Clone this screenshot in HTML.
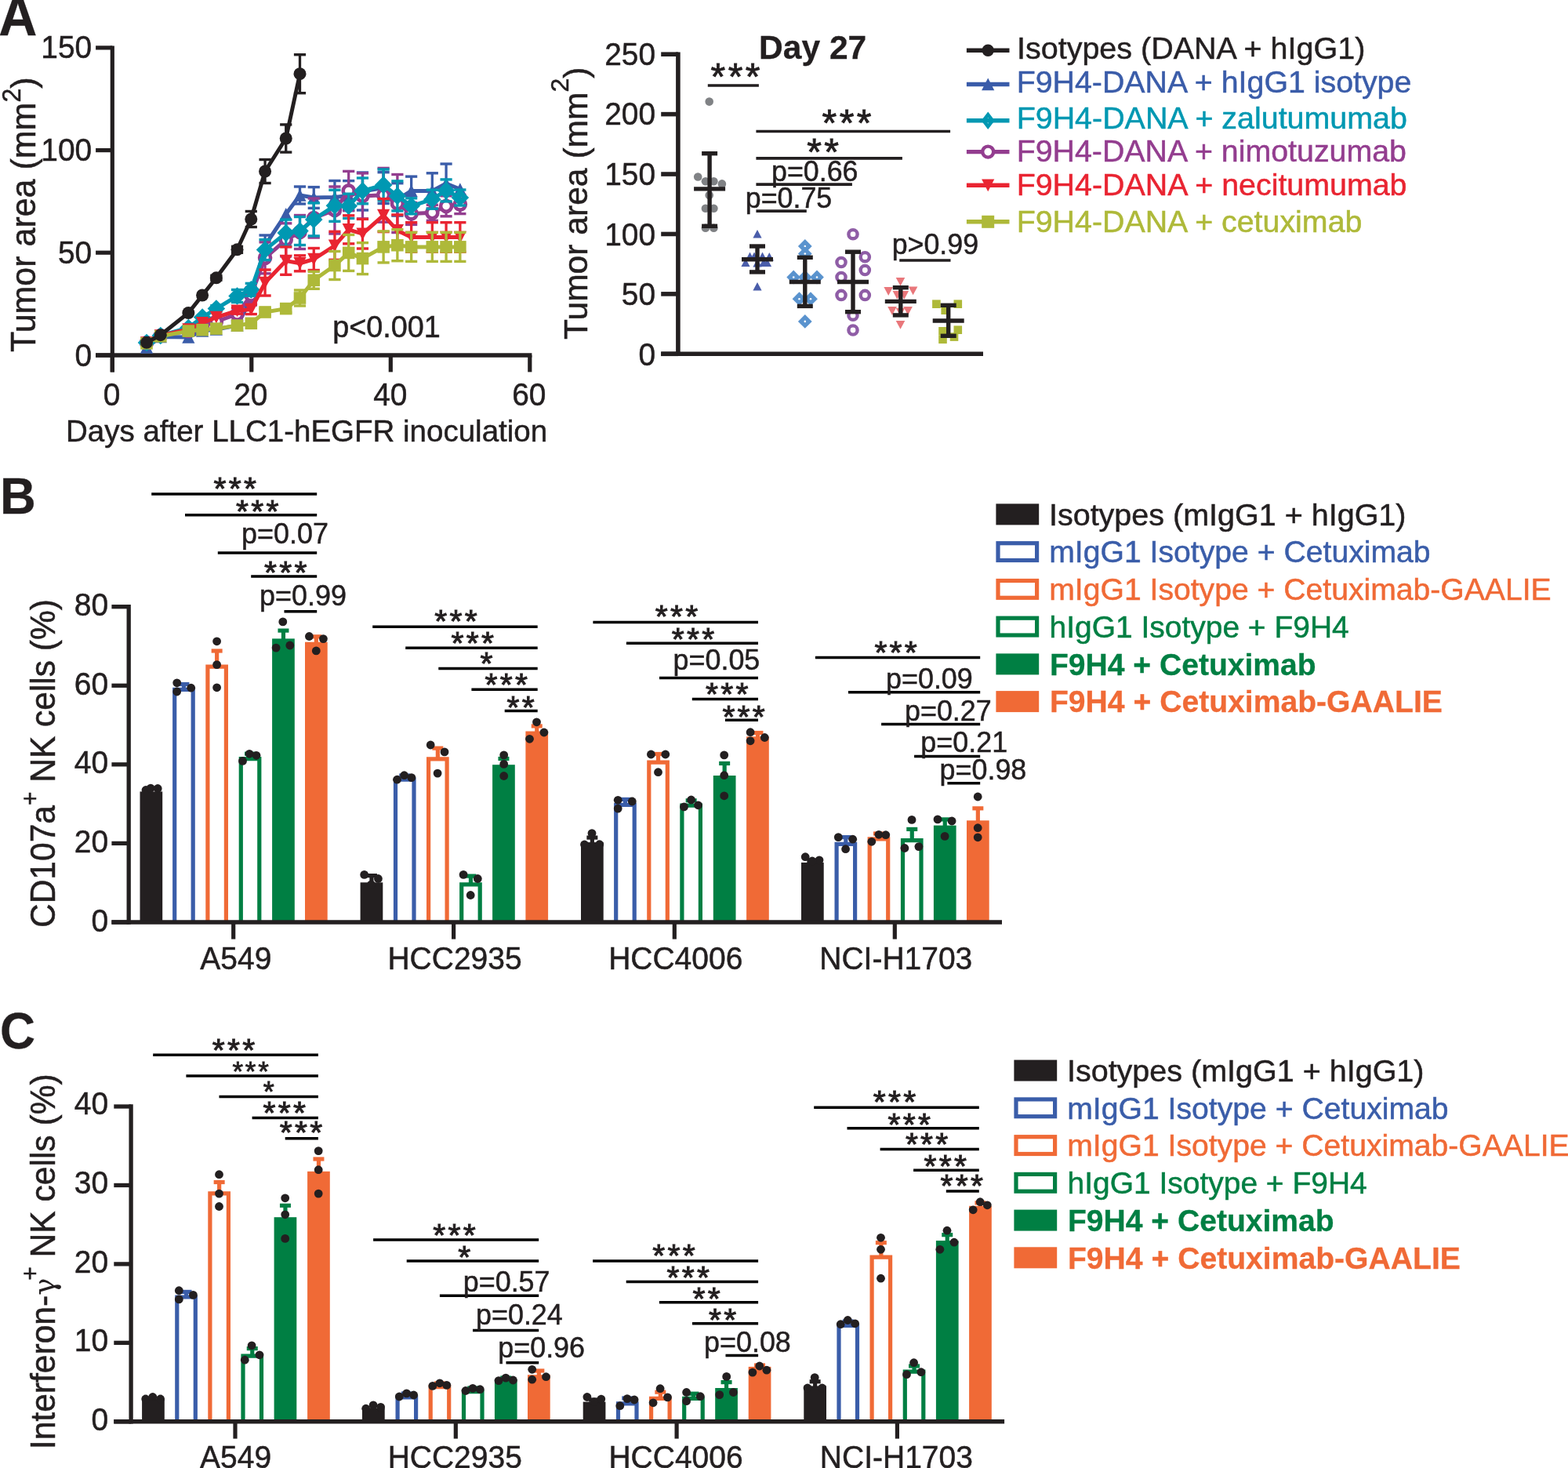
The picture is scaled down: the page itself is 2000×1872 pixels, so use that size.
<!DOCTYPE html>
<html lang="en">
<head>
<meta charset="utf-8">
<title>Figure</title>
<style>
html,body{margin:0;padding:0;background:#fff;}
body{width:2000px;height:1872px;overflow:hidden;}
svg{display:block;}
svg text{font-family:"Liberation Sans",sans-serif;}
</style>
</head>
<body>
<svg width="2000" height="1872" viewBox="0 0 2000 1872">
<rect x="0" y="0" width="2000" height="1872" fill="#ffffff"/>
<text transform="translate(-1.81 45.3) scale(1 1.03)" font-size="68" font-weight="bold" fill="#231f20" stroke="#231f20" stroke-width="0.3">A</text>
<line x1="143.3" y1="58.4" x2="143.3" y2="474.4" stroke="#231f20" stroke-width="5.2"/>
<line x1="122.1" y1="453" x2="678.4" y2="453" stroke="#231f20" stroke-width="5.6"/>
<line x1="122.1" y1="60.9" x2="143.3" y2="60.9" stroke="#231f20" stroke-width="5.2"/>
<text transform="translate(52.29 74.4) scale(1 1.03)" font-size="38.9" fill="#231f20" stroke="#231f20" stroke-width="0.5">150</text>
<line x1="122.1" y1="191.6" x2="143.3" y2="191.6" stroke="#231f20" stroke-width="5.2"/>
<text transform="translate(52.29 205.1) scale(1 1.03)" font-size="38.9" fill="#231f20" stroke="#231f20" stroke-width="0.5">100</text>
<line x1="122.1" y1="322.2" x2="143.3" y2="322.2" stroke="#231f20" stroke-width="5.2"/>
<text transform="translate(73.95 335.7) scale(1 1.03)" font-size="38.9" fill="#231f20" stroke="#231f20" stroke-width="0.5">50</text>
<line x1="122.1" y1="453" x2="143.3" y2="453" stroke="#231f20" stroke-width="5.2"/>
<text transform="translate(95.6 466.5) scale(1 1.03)" font-size="38.9" fill="#231f20" stroke="#231f20" stroke-width="0.5">0</text>
<line x1="143.3" y1="453" x2="143.3" y2="474.4" stroke="#231f20" stroke-width="5.2"/>
<text transform="translate(131.67 517) scale(1 1.03)" font-size="38.9" fill="#231f20" stroke="#231f20" stroke-width="0.5">0</text>
<line x1="320.8" y1="453" x2="320.8" y2="474.4" stroke="#231f20" stroke-width="5.2"/>
<text transform="translate(298.15 517) scale(1 1.03)" font-size="38.9" fill="#231f20" stroke="#231f20" stroke-width="0.5">20</text>
<line x1="498.3" y1="453" x2="498.3" y2="474.4" stroke="#231f20" stroke-width="5.2"/>
<text transform="translate(476.17 517) scale(1 1.03)" font-size="38.9" fill="#231f20" stroke="#231f20" stroke-width="0.5">40</text>
<line x1="675.8" y1="453" x2="675.8" y2="474.4" stroke="#231f20" stroke-width="5.2"/>
<text transform="translate(653.15 517) scale(1 1.03)" font-size="38.9" fill="#231f20" stroke="#231f20" stroke-width="0.5">60</text>
<text x="83.99" y="562.6" font-size="38.5" fill="#231f20" stroke="#231f20" stroke-width="0.5">Days after LLC1-hEGFR inoculation</text>
<text transform="translate(44.7 449) rotate(-90) scale(1 1.03)" font-size="43" fill="#231f20" stroke="#231f20" stroke-width="0.5">Tumor area (mm<tspan font-size="32" dy="-18">2</tspan><tspan dy="18">)</tspan></text>
<text transform="translate(424.21 430.4) scale(1 1.03)" font-size="37.8" fill="#231f20" stroke="#231f20" stroke-width="0.5">p&lt;0.001</text>
<line x1="302.53" y1="410" x2="302.53" y2="420" stroke="#3a5ca9" stroke-width="3.3"/>
<line x1="294.93" y1="410" x2="310.13" y2="410" stroke="#3a5ca9" stroke-width="3.4"/>
<line x1="294.93" y1="420" x2="310.13" y2="420" stroke="#3a5ca9" stroke-width="3.4"/>
<line x1="320.3" y1="373" x2="320.3" y2="389" stroke="#3a5ca9" stroke-width="3.3"/>
<line x1="312.7" y1="373" x2="327.9" y2="373" stroke="#3a5ca9" stroke-width="3.4"/>
<line x1="312.7" y1="389" x2="327.9" y2="389" stroke="#3a5ca9" stroke-width="3.4"/>
<line x1="338.07" y1="300" x2="338.07" y2="326" stroke="#3a5ca9" stroke-width="3.3"/>
<line x1="330.47" y1="300" x2="345.67" y2="300" stroke="#3a5ca9" stroke-width="3.4"/>
<line x1="330.47" y1="326" x2="345.67" y2="326" stroke="#3a5ca9" stroke-width="3.4"/>
<line x1="382.5" y1="238" x2="382.5" y2="260" stroke="#3a5ca9" stroke-width="3.3"/>
<line x1="374.89" y1="238" x2="390.1" y2="238" stroke="#3a5ca9" stroke-width="3.4"/>
<line x1="374.89" y1="260" x2="390.1" y2="260" stroke="#3a5ca9" stroke-width="3.4"/>
<line x1="400.26" y1="238.6" x2="400.26" y2="265.4" stroke="#3a5ca9" stroke-width="3.3"/>
<line x1="392.66" y1="238.6" x2="407.87" y2="238.6" stroke="#3a5ca9" stroke-width="3.4"/>
<line x1="392.66" y1="265.4" x2="407.87" y2="265.4" stroke="#3a5ca9" stroke-width="3.4"/>
<line x1="426.92" y1="230.5" x2="426.92" y2="272.5" stroke="#3a5ca9" stroke-width="3.3"/>
<line x1="419.32" y1="230.5" x2="434.52" y2="230.5" stroke="#3a5ca9" stroke-width="3.4"/>
<line x1="419.32" y1="272.5" x2="434.52" y2="272.5" stroke="#3a5ca9" stroke-width="3.4"/>
<line x1="444.69" y1="230.6" x2="444.69" y2="268.6" stroke="#3a5ca9" stroke-width="3.3"/>
<line x1="437.09" y1="230.6" x2="452.29" y2="230.6" stroke="#3a5ca9" stroke-width="3.4"/>
<line x1="437.09" y1="268.6" x2="452.29" y2="268.6" stroke="#3a5ca9" stroke-width="3.4"/>
<line x1="462.46" y1="220" x2="462.46" y2="268" stroke="#3a5ca9" stroke-width="3.3"/>
<line x1="454.86" y1="220" x2="470.06" y2="220" stroke="#3a5ca9" stroke-width="3.4"/>
<line x1="454.86" y1="268" x2="470.06" y2="268" stroke="#3a5ca9" stroke-width="3.4"/>
<line x1="489.12" y1="219.7" x2="489.12" y2="259.5" stroke="#3a5ca9" stroke-width="3.3"/>
<line x1="481.51" y1="219.7" x2="496.72" y2="219.7" stroke="#3a5ca9" stroke-width="3.4"/>
<line x1="481.51" y1="259.5" x2="496.72" y2="259.5" stroke="#3a5ca9" stroke-width="3.4"/>
<line x1="506.88" y1="233.7" x2="506.88" y2="275.1" stroke="#3a5ca9" stroke-width="3.3"/>
<line x1="499.28" y1="233.7" x2="514.49" y2="233.7" stroke="#3a5ca9" stroke-width="3.4"/>
<line x1="499.28" y1="275.1" x2="514.49" y2="275.1" stroke="#3a5ca9" stroke-width="3.4"/>
<line x1="524.65" y1="225.1" x2="524.65" y2="261.7" stroke="#3a5ca9" stroke-width="3.3"/>
<line x1="517.05" y1="225.1" x2="532.25" y2="225.1" stroke="#3a5ca9" stroke-width="3.4"/>
<line x1="517.05" y1="261.7" x2="532.25" y2="261.7" stroke="#3a5ca9" stroke-width="3.4"/>
<line x1="551.31" y1="220.8" x2="551.31" y2="266" stroke="#3a5ca9" stroke-width="3.3"/>
<line x1="543.71" y1="220.8" x2="558.91" y2="220.8" stroke="#3a5ca9" stroke-width="3.4"/>
<line x1="543.71" y1="266" x2="558.91" y2="266" stroke="#3a5ca9" stroke-width="3.4"/>
<line x1="569.08" y1="209" x2="569.08" y2="259" stroke="#3a5ca9" stroke-width="3.3"/>
<line x1="561.48" y1="209" x2="576.68" y2="209" stroke="#3a5ca9" stroke-width="3.4"/>
<line x1="561.48" y1="259" x2="576.68" y2="259" stroke="#3a5ca9" stroke-width="3.4"/>
<polyline points="187.02,443 204.79,429.5 240.33,430 258.11,422 275.88,420 302.53,415 320.3,381 338.07,313 364.73,273 382.5,249 400.26,252 426.92,251.5 444.69,249.6 462.46,244 489.12,239.6 506.88,254.4 524.65,243.4 551.31,243.4 569.08,234 586.85,241.3" fill="none" stroke="#3a5ca9" stroke-width="5" stroke-linejoin="round"/>
<polygon points="187.02,435 195.12,450.8 178.92,450.8" fill="#3a5ca9"/>
<polygon points="204.79,421.5 212.89,437.3 196.69,437.3" fill="#3a5ca9"/>
<polygon points="240.33,422 248.43,437.8 232.23,437.8" fill="#3a5ca9"/>
<polygon points="258.11,414 266.21,429.8 250.01,429.8" fill="#3a5ca9"/>
<polygon points="275.88,412 283.98,427.8 267.77,427.8" fill="#3a5ca9"/>
<polygon points="302.53,407 310.63,422.8 294.43,422.8" fill="#3a5ca9"/>
<polygon points="320.3,373 328.4,388.8 312.2,388.8" fill="#3a5ca9"/>
<polygon points="338.07,305 346.17,320.8 329.97,320.8" fill="#3a5ca9"/>
<polygon points="364.73,265 372.83,280.8 356.62,280.8" fill="#3a5ca9"/>
<polygon points="382.5,241 390.6,256.8 374.39,256.8" fill="#3a5ca9"/>
<polygon points="400.26,244 408.37,259.8 392.16,259.8" fill="#3a5ca9"/>
<polygon points="426.92,243.5 435.02,259.3 418.82,259.3" fill="#3a5ca9"/>
<polygon points="444.69,241.6 452.79,257.4 436.59,257.4" fill="#3a5ca9"/>
<polygon points="462.46,236 470.56,251.8 454.36,251.8" fill="#3a5ca9"/>
<polygon points="489.12,231.6 497.22,247.4 481.01,247.4" fill="#3a5ca9"/>
<polygon points="506.88,246.4 514.99,262.2 498.78,262.2" fill="#3a5ca9"/>
<polygon points="524.65,235.4 532.75,251.2 516.55,251.2" fill="#3a5ca9"/>
<polygon points="551.31,235.4 559.41,251.2 543.21,251.2" fill="#3a5ca9"/>
<polygon points="569.08,226 577.18,241.8 560.98,241.8" fill="#3a5ca9"/>
<polygon points="586.85,233.3 594.95,249.1 578.75,249.1" fill="#3a5ca9"/>
<line x1="275.88" y1="406" x2="275.88" y2="414" stroke="#933d8f" stroke-width="3.3"/>
<line x1="268.27" y1="406" x2="283.48" y2="406" stroke="#933d8f" stroke-width="3.4"/>
<line x1="268.27" y1="414" x2="283.48" y2="414" stroke="#933d8f" stroke-width="3.4"/>
<line x1="302.53" y1="392.6" x2="302.53" y2="408.6" stroke="#933d8f" stroke-width="3.3"/>
<line x1="294.93" y1="392.6" x2="310.13" y2="392.6" stroke="#933d8f" stroke-width="3.4"/>
<line x1="294.93" y1="408.6" x2="310.13" y2="408.6" stroke="#933d8f" stroke-width="3.4"/>
<line x1="320.3" y1="366.5" x2="320.3" y2="386.5" stroke="#933d8f" stroke-width="3.3"/>
<line x1="312.7" y1="366.5" x2="327.9" y2="366.5" stroke="#933d8f" stroke-width="3.4"/>
<line x1="312.7" y1="386.5" x2="327.9" y2="386.5" stroke="#933d8f" stroke-width="3.4"/>
<line x1="338.07" y1="308.8" x2="338.07" y2="348.8" stroke="#933d8f" stroke-width="3.3"/>
<line x1="330.47" y1="308.8" x2="345.67" y2="308.8" stroke="#933d8f" stroke-width="3.4"/>
<line x1="330.47" y1="348.8" x2="345.67" y2="348.8" stroke="#933d8f" stroke-width="3.4"/>
<line x1="364.73" y1="284.8" x2="364.73" y2="326.8" stroke="#933d8f" stroke-width="3.3"/>
<line x1="357.12" y1="284.8" x2="372.33" y2="284.8" stroke="#933d8f" stroke-width="3.4"/>
<line x1="357.12" y1="326.8" x2="372.33" y2="326.8" stroke="#933d8f" stroke-width="3.4"/>
<line x1="382.5" y1="274.5" x2="382.5" y2="317.5" stroke="#933d8f" stroke-width="3.3"/>
<line x1="374.89" y1="274.5" x2="390.1" y2="274.5" stroke="#933d8f" stroke-width="3.4"/>
<line x1="374.89" y1="317.5" x2="390.1" y2="317.5" stroke="#933d8f" stroke-width="3.4"/>
<line x1="400.26" y1="253" x2="400.26" y2="303" stroke="#933d8f" stroke-width="3.3"/>
<line x1="392.66" y1="253" x2="407.87" y2="253" stroke="#933d8f" stroke-width="3.4"/>
<line x1="392.66" y1="303" x2="407.87" y2="303" stroke="#933d8f" stroke-width="3.4"/>
<line x1="426.92" y1="238" x2="426.92" y2="298" stroke="#933d8f" stroke-width="3.3"/>
<line x1="419.32" y1="238" x2="434.52" y2="238" stroke="#933d8f" stroke-width="3.4"/>
<line x1="419.32" y1="298" x2="434.52" y2="298" stroke="#933d8f" stroke-width="3.4"/>
<line x1="444.69" y1="218.4" x2="444.69" y2="268.4" stroke="#933d8f" stroke-width="3.3"/>
<line x1="437.09" y1="218.4" x2="452.29" y2="218.4" stroke="#933d8f" stroke-width="3.4"/>
<line x1="437.09" y1="268.4" x2="452.29" y2="268.4" stroke="#933d8f" stroke-width="3.4"/>
<line x1="462.46" y1="220.9" x2="462.46" y2="278.9" stroke="#933d8f" stroke-width="3.3"/>
<line x1="454.86" y1="220.9" x2="470.06" y2="220.9" stroke="#933d8f" stroke-width="3.4"/>
<line x1="454.86" y1="278.9" x2="470.06" y2="278.9" stroke="#933d8f" stroke-width="3.4"/>
<line x1="489.12" y1="214.4" x2="489.12" y2="283.2" stroke="#933d8f" stroke-width="3.3"/>
<line x1="481.51" y1="214.4" x2="496.72" y2="214.4" stroke="#933d8f" stroke-width="3.4"/>
<line x1="481.51" y1="283.2" x2="496.72" y2="283.2" stroke="#933d8f" stroke-width="3.4"/>
<line x1="506.88" y1="222.5" x2="506.88" y2="296.5" stroke="#933d8f" stroke-width="3.3"/>
<line x1="499.28" y1="222.5" x2="514.49" y2="222.5" stroke="#933d8f" stroke-width="3.4"/>
<line x1="499.28" y1="296.5" x2="514.49" y2="296.5" stroke="#933d8f" stroke-width="3.4"/>
<line x1="524.65" y1="258.4" x2="524.65" y2="286.4" stroke="#933d8f" stroke-width="3.3"/>
<line x1="517.05" y1="258.4" x2="532.25" y2="258.4" stroke="#933d8f" stroke-width="3.4"/>
<line x1="517.05" y1="286.4" x2="532.25" y2="286.4" stroke="#933d8f" stroke-width="3.4"/>
<line x1="551.31" y1="261.3" x2="551.31" y2="281.3" stroke="#933d8f" stroke-width="3.3"/>
<line x1="543.71" y1="261.3" x2="558.91" y2="261.3" stroke="#933d8f" stroke-width="3.4"/>
<line x1="543.71" y1="281.3" x2="558.91" y2="281.3" stroke="#933d8f" stroke-width="3.4"/>
<line x1="569.08" y1="249.8" x2="569.08" y2="275.8" stroke="#933d8f" stroke-width="3.3"/>
<line x1="561.48" y1="249.8" x2="576.68" y2="249.8" stroke="#933d8f" stroke-width="3.4"/>
<line x1="561.48" y1="275.8" x2="576.68" y2="275.8" stroke="#933d8f" stroke-width="3.4"/>
<line x1="586.85" y1="248.6" x2="586.85" y2="272.6" stroke="#933d8f" stroke-width="3.3"/>
<line x1="579.25" y1="248.6" x2="594.45" y2="248.6" stroke="#933d8f" stroke-width="3.4"/>
<line x1="579.25" y1="272.6" x2="594.45" y2="272.6" stroke="#933d8f" stroke-width="3.4"/>
<polyline points="187.02,437 204.79,428 240.33,422 258.11,416 275.88,410 302.53,400.6 320.3,376.5 338.07,328.8 364.73,305.8 382.5,296 400.26,278 426.92,268 444.69,243.4 462.46,249.9 489.12,248.8 506.88,259.5 524.65,272.4 551.31,271.3 569.08,262.8 586.85,260.6" fill="none" stroke="#933d8f" stroke-width="5" stroke-linejoin="round"/>
<circle cx="187.02" cy="437" r="7" fill="#fff" stroke="#933d8f" stroke-width="4.6"/>
<circle cx="204.79" cy="428" r="7" fill="#fff" stroke="#933d8f" stroke-width="4.6"/>
<circle cx="240.33" cy="422" r="7" fill="#fff" stroke="#933d8f" stroke-width="4.6"/>
<circle cx="258.11" cy="416" r="7" fill="#fff" stroke="#933d8f" stroke-width="4.6"/>
<circle cx="275.88" cy="410" r="7" fill="#fff" stroke="#933d8f" stroke-width="4.6"/>
<circle cx="302.53" cy="400.6" r="7" fill="#fff" stroke="#933d8f" stroke-width="4.6"/>
<circle cx="320.3" cy="376.5" r="7" fill="#fff" stroke="#933d8f" stroke-width="4.6"/>
<circle cx="338.07" cy="328.8" r="7" fill="#fff" stroke="#933d8f" stroke-width="4.6"/>
<circle cx="364.73" cy="305.8" r="7" fill="#fff" stroke="#933d8f" stroke-width="4.6"/>
<circle cx="382.5" cy="296" r="7" fill="#fff" stroke="#933d8f" stroke-width="4.6"/>
<circle cx="400.26" cy="278" r="7" fill="#fff" stroke="#933d8f" stroke-width="4.6"/>
<circle cx="426.92" cy="268" r="7" fill="#fff" stroke="#933d8f" stroke-width="4.6"/>
<circle cx="444.69" cy="243.4" r="7" fill="#fff" stroke="#933d8f" stroke-width="4.6"/>
<circle cx="462.46" cy="249.9" r="7" fill="#fff" stroke="#933d8f" stroke-width="4.6"/>
<circle cx="489.12" cy="248.8" r="7" fill="#fff" stroke="#933d8f" stroke-width="4.6"/>
<circle cx="506.88" cy="259.5" r="7" fill="#fff" stroke="#933d8f" stroke-width="4.6"/>
<circle cx="524.65" cy="272.4" r="7" fill="#fff" stroke="#933d8f" stroke-width="4.6"/>
<circle cx="551.31" cy="271.3" r="7" fill="#fff" stroke="#933d8f" stroke-width="4.6"/>
<circle cx="569.08" cy="262.8" r="7" fill="#fff" stroke="#933d8f" stroke-width="4.6"/>
<circle cx="586.85" cy="260.6" r="7" fill="#fff" stroke="#933d8f" stroke-width="4.6"/>
<line x1="275.88" y1="389.6" x2="275.88" y2="397.6" stroke="#0098b2" stroke-width="3.3"/>
<line x1="268.27" y1="389.6" x2="283.48" y2="389.6" stroke="#0098b2" stroke-width="3.4"/>
<line x1="268.27" y1="397.6" x2="283.48" y2="397.6" stroke="#0098b2" stroke-width="3.4"/>
<line x1="302.53" y1="369.5" x2="302.53" y2="385.5" stroke="#0098b2" stroke-width="3.3"/>
<line x1="294.93" y1="369.5" x2="310.13" y2="369.5" stroke="#0098b2" stroke-width="3.4"/>
<line x1="294.93" y1="385.5" x2="310.13" y2="385.5" stroke="#0098b2" stroke-width="3.4"/>
<line x1="320.3" y1="361.4" x2="320.3" y2="377.4" stroke="#0098b2" stroke-width="3.3"/>
<line x1="312.7" y1="361.4" x2="327.9" y2="361.4" stroke="#0098b2" stroke-width="3.4"/>
<line x1="312.7" y1="377.4" x2="327.9" y2="377.4" stroke="#0098b2" stroke-width="3.4"/>
<line x1="338.07" y1="305.6" x2="338.07" y2="331.6" stroke="#0098b2" stroke-width="3.3"/>
<line x1="330.47" y1="305.6" x2="345.67" y2="305.6" stroke="#0098b2" stroke-width="3.4"/>
<line x1="330.47" y1="331.6" x2="345.67" y2="331.6" stroke="#0098b2" stroke-width="3.4"/>
<line x1="364.73" y1="280.1" x2="364.73" y2="314.1" stroke="#0098b2" stroke-width="3.3"/>
<line x1="357.12" y1="280.1" x2="372.33" y2="280.1" stroke="#0098b2" stroke-width="3.4"/>
<line x1="357.12" y1="314.1" x2="372.33" y2="314.1" stroke="#0098b2" stroke-width="3.4"/>
<line x1="382.5" y1="276.5" x2="382.5" y2="312.5" stroke="#0098b2" stroke-width="3.3"/>
<line x1="374.89" y1="276.5" x2="390.1" y2="276.5" stroke="#0098b2" stroke-width="3.4"/>
<line x1="374.89" y1="312.5" x2="390.1" y2="312.5" stroke="#0098b2" stroke-width="3.4"/>
<line x1="400.26" y1="258.9" x2="400.26" y2="300.9" stroke="#0098b2" stroke-width="3.3"/>
<line x1="392.66" y1="258.9" x2="407.87" y2="258.9" stroke="#0098b2" stroke-width="3.4"/>
<line x1="392.66" y1="300.9" x2="407.87" y2="300.9" stroke="#0098b2" stroke-width="3.4"/>
<line x1="426.92" y1="242.3" x2="426.92" y2="282.3" stroke="#0098b2" stroke-width="3.3"/>
<line x1="419.32" y1="242.3" x2="434.52" y2="242.3" stroke="#0098b2" stroke-width="3.4"/>
<line x1="419.32" y1="282.3" x2="434.52" y2="282.3" stroke="#0098b2" stroke-width="3.4"/>
<line x1="444.69" y1="247.2" x2="444.69" y2="278.4" stroke="#0098b2" stroke-width="3.3"/>
<line x1="437.09" y1="247.2" x2="452.29" y2="247.2" stroke="#0098b2" stroke-width="3.4"/>
<line x1="437.09" y1="278.4" x2="452.29" y2="278.4" stroke="#0098b2" stroke-width="3.4"/>
<line x1="462.46" y1="227" x2="462.46" y2="259.8" stroke="#0098b2" stroke-width="3.3"/>
<line x1="454.86" y1="227" x2="470.06" y2="227" stroke="#0098b2" stroke-width="3.4"/>
<line x1="454.86" y1="259.8" x2="470.06" y2="259.8" stroke="#0098b2" stroke-width="3.4"/>
<line x1="489.12" y1="216" x2="489.12" y2="255.8" stroke="#0098b2" stroke-width="3.3"/>
<line x1="481.51" y1="216" x2="496.72" y2="216" stroke="#0098b2" stroke-width="3.4"/>
<line x1="481.51" y1="255.8" x2="496.72" y2="255.8" stroke="#0098b2" stroke-width="3.4"/>
<line x1="506.88" y1="230.9" x2="506.88" y2="268.9" stroke="#0098b2" stroke-width="3.3"/>
<line x1="499.28" y1="230.9" x2="514.49" y2="230.9" stroke="#0098b2" stroke-width="3.4"/>
<line x1="499.28" y1="268.9" x2="514.49" y2="268.9" stroke="#0098b2" stroke-width="3.4"/>
<line x1="524.65" y1="252.8" x2="524.65" y2="272.8" stroke="#0098b2" stroke-width="3.3"/>
<line x1="517.05" y1="252.8" x2="532.25" y2="252.8" stroke="#0098b2" stroke-width="3.4"/>
<line x1="517.05" y1="272.8" x2="532.25" y2="272.8" stroke="#0098b2" stroke-width="3.4"/>
<line x1="551.31" y1="242.2" x2="551.31" y2="266.2" stroke="#0098b2" stroke-width="3.3"/>
<line x1="543.71" y1="242.2" x2="558.91" y2="242.2" stroke="#0098b2" stroke-width="3.4"/>
<line x1="543.71" y1="266.2" x2="558.91" y2="266.2" stroke="#0098b2" stroke-width="3.4"/>
<line x1="569.08" y1="228.9" x2="569.08" y2="256.9" stroke="#0098b2" stroke-width="3.3"/>
<line x1="561.48" y1="228.9" x2="576.68" y2="228.9" stroke="#0098b2" stroke-width="3.4"/>
<line x1="561.48" y1="256.9" x2="576.68" y2="256.9" stroke="#0098b2" stroke-width="3.4"/>
<line x1="586.85" y1="242" x2="586.85" y2="262" stroke="#0098b2" stroke-width="3.3"/>
<line x1="579.25" y1="242" x2="594.45" y2="242" stroke="#0098b2" stroke-width="3.4"/>
<line x1="579.25" y1="262" x2="594.45" y2="262" stroke="#0098b2" stroke-width="3.4"/>
<polyline points="187.02,437 204.79,428 240.33,418 258.11,404.6 275.88,393.6 302.53,377.5 320.3,369.4 338.07,318.6 364.73,297.1 382.5,294.5 400.26,279.9 426.92,262.3 444.69,262.8 462.46,243.4 489.12,235.9 506.88,249.9 524.65,262.8 551.31,254.2 569.08,242.9 586.85,252" fill="none" stroke="#0098b2" stroke-width="5" stroke-linejoin="round"/>
<path fill-rule="evenodd" fill="#0098b2" d="M187.02 425.7L198.32 437L187.02 448.3L175.72 437ZM187.02 434.6L189.42 437L187.02 439.4L184.62 437Z"/>
<path fill-rule="evenodd" fill="#0098b2" d="M204.79 416.7L216.09 428L204.79 439.3L193.49 428ZM204.79 425.6L207.19 428L204.79 430.4L202.39 428Z"/>
<path fill-rule="evenodd" fill="#0098b2" d="M240.33 406.7L251.63 418L240.33 429.3L229.03 418ZM240.33 415.6L242.73 418L240.33 420.4L237.93 418Z"/>
<path fill-rule="evenodd" fill="#0098b2" d="M258.11 393.3L269.41 404.6L258.11 415.9L246.81 404.6ZM258.11 402.2L260.5 404.6L258.11 407L255.71 404.6Z"/>
<path fill-rule="evenodd" fill="#0098b2" d="M275.88 382.3L287.18 393.6L275.88 404.9L264.57 393.6ZM275.88 391.2L278.27 393.6L275.88 396L273.48 393.6Z"/>
<path fill-rule="evenodd" fill="#0098b2" d="M302.53 366.2L313.83 377.5L302.53 388.8L291.23 377.5ZM302.53 375.1L304.93 377.5L302.53 379.9L300.13 377.5Z"/>
<path fill-rule="evenodd" fill="#0098b2" d="M320.3 358.1L331.6 369.4L320.3 380.7L309 369.4ZM320.3 367L322.7 369.4L320.3 371.8L317.9 369.4Z"/>
<path fill-rule="evenodd" fill="#0098b2" d="M338.07 307.3L349.37 318.6L338.07 329.9L326.77 318.6ZM338.07 316.2L340.47 318.6L338.07 321L335.67 318.6Z"/>
<path fill-rule="evenodd" fill="#0098b2" d="M364.73 285.8L376.03 297.1L364.73 308.4L353.43 297.1ZM364.73 294.7L367.12 297.1L364.73 299.5L362.33 297.1Z"/>
<path fill-rule="evenodd" fill="#0098b2" d="M382.5 283.2L393.8 294.5L382.5 305.8L371.19 294.5ZM382.5 292.1L384.89 294.5L382.5 296.9L380.1 294.5Z"/>
<path fill-rule="evenodd" fill="#0098b2" d="M400.26 268.6L411.56 279.9L400.26 291.2L388.96 279.9ZM400.26 277.5L402.66 279.9L400.26 282.3L397.87 279.9Z"/>
<path fill-rule="evenodd" fill="#0098b2" d="M426.92 251L438.22 262.3L426.92 273.6L415.62 262.3ZM426.92 259.9L429.32 262.3L426.92 264.7L424.52 262.3Z"/>
<path fill-rule="evenodd" fill="#0098b2" d="M444.69 251.5L455.99 262.8L444.69 274.1L433.39 262.8ZM444.69 260.4L447.09 262.8L444.69 265.2L442.29 262.8Z"/>
<path fill-rule="evenodd" fill="#0098b2" d="M462.46 232.1L473.76 243.4L462.46 254.7L451.16 243.4ZM462.46 241L464.86 243.4L462.46 245.8L460.06 243.4Z"/>
<path fill-rule="evenodd" fill="#0098b2" d="M489.12 224.6L500.42 235.9L489.12 247.2L477.81 235.9ZM489.12 233.5L491.51 235.9L489.12 238.3L486.72 235.9Z"/>
<path fill-rule="evenodd" fill="#0098b2" d="M506.88 238.6L518.18 249.9L506.88 261.2L495.58 249.9ZM506.88 247.5L509.28 249.9L506.88 252.3L504.49 249.9Z"/>
<path fill-rule="evenodd" fill="#0098b2" d="M524.65 251.5L535.95 262.8L524.65 274.1L513.36 262.8ZM524.65 260.4L527.05 262.8L524.65 265.2L522.25 262.8Z"/>
<path fill-rule="evenodd" fill="#0098b2" d="M551.31 242.9L562.61 254.2L551.31 265.5L540.01 254.2ZM551.31 251.8L553.71 254.2L551.31 256.6L548.91 254.2Z"/>
<path fill-rule="evenodd" fill="#0098b2" d="M569.08 231.6L580.38 242.9L569.08 254.2L557.78 242.9ZM569.08 240.5L571.48 242.9L569.08 245.3L566.68 242.9Z"/>
<path fill-rule="evenodd" fill="#0098b2" d="M586.85 240.7L598.15 252L586.85 263.3L575.55 252ZM586.85 249.6L589.25 252L586.85 254.4L584.45 252Z"/>
<line x1="302.53" y1="392.2" x2="302.53" y2="400.2" stroke="#e92431" stroke-width="3.3"/>
<line x1="294.93" y1="392.2" x2="310.13" y2="392.2" stroke="#e92431" stroke-width="3.4"/>
<line x1="294.93" y1="400.2" x2="310.13" y2="400.2" stroke="#e92431" stroke-width="3.4"/>
<line x1="320.3" y1="388.6" x2="320.3" y2="400.6" stroke="#e92431" stroke-width="3.3"/>
<line x1="312.7" y1="388.6" x2="327.9" y2="388.6" stroke="#e92431" stroke-width="3.4"/>
<line x1="312.7" y1="400.6" x2="327.9" y2="400.6" stroke="#e92431" stroke-width="3.4"/>
<line x1="338.07" y1="344" x2="338.07" y2="377" stroke="#e92431" stroke-width="3.3"/>
<line x1="330.47" y1="344" x2="345.67" y2="344" stroke="#e92431" stroke-width="3.4"/>
<line x1="330.47" y1="377" x2="345.67" y2="377" stroke="#e92431" stroke-width="3.4"/>
<line x1="364.73" y1="314.9" x2="364.73" y2="350.3" stroke="#e92431" stroke-width="3.3"/>
<line x1="357.12" y1="314.9" x2="372.33" y2="314.9" stroke="#e92431" stroke-width="3.4"/>
<line x1="357.12" y1="350.3" x2="372.33" y2="350.3" stroke="#e92431" stroke-width="3.4"/>
<line x1="382.5" y1="325.8" x2="382.5" y2="345.8" stroke="#e92431" stroke-width="3.3"/>
<line x1="374.89" y1="325.8" x2="390.1" y2="325.8" stroke="#e92431" stroke-width="3.4"/>
<line x1="374.89" y1="345.8" x2="390.1" y2="345.8" stroke="#e92431" stroke-width="3.4"/>
<line x1="400.26" y1="316.5" x2="400.26" y2="344.5" stroke="#e92431" stroke-width="3.3"/>
<line x1="392.66" y1="316.5" x2="407.87" y2="316.5" stroke="#e92431" stroke-width="3.4"/>
<line x1="392.66" y1="344.5" x2="407.87" y2="344.5" stroke="#e92431" stroke-width="3.4"/>
<line x1="426.92" y1="295.3" x2="426.92" y2="331.3" stroke="#e92431" stroke-width="3.3"/>
<line x1="419.32" y1="295.3" x2="434.52" y2="295.3" stroke="#e92431" stroke-width="3.4"/>
<line x1="419.32" y1="331.3" x2="434.52" y2="331.3" stroke="#e92431" stroke-width="3.4"/>
<line x1="444.69" y1="274.8" x2="444.69" y2="310.8" stroke="#e92431" stroke-width="3.3"/>
<line x1="437.09" y1="274.8" x2="452.29" y2="274.8" stroke="#e92431" stroke-width="3.4"/>
<line x1="437.09" y1="310.8" x2="452.29" y2="310.8" stroke="#e92431" stroke-width="3.4"/>
<line x1="462.46" y1="279.4" x2="462.46" y2="317" stroke="#e92431" stroke-width="3.3"/>
<line x1="454.86" y1="279.4" x2="470.06" y2="279.4" stroke="#e92431" stroke-width="3.4"/>
<line x1="454.86" y1="317" x2="470.06" y2="317" stroke="#e92431" stroke-width="3.4"/>
<line x1="489.12" y1="253.6" x2="489.12" y2="295.6" stroke="#e92431" stroke-width="3.3"/>
<line x1="481.51" y1="253.6" x2="496.72" y2="253.6" stroke="#e92431" stroke-width="3.4"/>
<line x1="481.51" y1="295.6" x2="496.72" y2="295.6" stroke="#e92431" stroke-width="3.4"/>
<line x1="506.88" y1="273.9" x2="506.88" y2="313.9" stroke="#e92431" stroke-width="3.3"/>
<line x1="499.28" y1="273.9" x2="514.49" y2="273.9" stroke="#e92431" stroke-width="3.4"/>
<line x1="499.28" y1="313.9" x2="514.49" y2="313.9" stroke="#e92431" stroke-width="3.4"/>
<line x1="524.65" y1="283.7" x2="524.65" y2="321.3" stroke="#e92431" stroke-width="3.3"/>
<line x1="517.05" y1="283.7" x2="532.25" y2="283.7" stroke="#e92431" stroke-width="3.4"/>
<line x1="517.05" y1="321.3" x2="532.25" y2="321.3" stroke="#e92431" stroke-width="3.4"/>
<line x1="551.31" y1="283.7" x2="551.31" y2="321.3" stroke="#e92431" stroke-width="3.3"/>
<line x1="543.71" y1="283.7" x2="558.91" y2="283.7" stroke="#e92431" stroke-width="3.4"/>
<line x1="543.71" y1="321.3" x2="558.91" y2="321.3" stroke="#e92431" stroke-width="3.4"/>
<line x1="569.08" y1="283.7" x2="569.08" y2="321.3" stroke="#e92431" stroke-width="3.3"/>
<line x1="561.48" y1="283.7" x2="576.68" y2="283.7" stroke="#e92431" stroke-width="3.4"/>
<line x1="561.48" y1="321.3" x2="576.68" y2="321.3" stroke="#e92431" stroke-width="3.4"/>
<line x1="586.85" y1="283.7" x2="586.85" y2="321.3" stroke="#e92431" stroke-width="3.3"/>
<line x1="579.25" y1="283.7" x2="594.45" y2="283.7" stroke="#e92431" stroke-width="3.4"/>
<line x1="579.25" y1="321.3" x2="594.45" y2="321.3" stroke="#e92431" stroke-width="3.4"/>
<polyline points="187.02,437 204.79,428 240.33,420 258.11,411.7 275.88,404.6 302.53,396.2 320.3,394.6 338.07,360.5 364.73,332.6 382.5,335.8 400.26,330.5 426.92,313.3 444.69,292.8 462.46,298.2 489.12,274.6 506.88,293.9 524.65,302.5 551.31,302.5 569.08,302.5 586.85,302.5" fill="none" stroke="#e92431" stroke-width="5" stroke-linejoin="round"/>
<polygon points="178.92,429.2 195.12,429.2 187.02,445" fill="#e92431"/>
<polygon points="196.69,420.2 212.89,420.2 204.79,436" fill="#e92431"/>
<polygon points="232.23,412.2 248.43,412.2 240.33,428" fill="#e92431"/>
<polygon points="250.01,403.9 266.21,403.9 258.11,419.7" fill="#e92431"/>
<polygon points="267.77,396.8 283.98,396.8 275.88,412.6" fill="#e92431"/>
<polygon points="294.43,388.4 310.63,388.4 302.53,404.2" fill="#e92431"/>
<polygon points="312.2,386.8 328.4,386.8 320.3,402.6" fill="#e92431"/>
<polygon points="329.97,352.7 346.17,352.7 338.07,368.5" fill="#e92431"/>
<polygon points="356.62,324.8 372.83,324.8 364.73,340.6" fill="#e92431"/>
<polygon points="374.39,328 390.6,328 382.5,343.8" fill="#e92431"/>
<polygon points="392.16,322.7 408.37,322.7 400.26,338.5" fill="#e92431"/>
<polygon points="418.82,305.5 435.02,305.5 426.92,321.3" fill="#e92431"/>
<polygon points="436.59,285 452.79,285 444.69,300.8" fill="#e92431"/>
<polygon points="454.36,290.4 470.56,290.4 462.46,306.2" fill="#e92431"/>
<polygon points="481.01,266.8 497.22,266.8 489.12,282.6" fill="#e92431"/>
<polygon points="498.78,286.1 514.99,286.1 506.88,301.9" fill="#e92431"/>
<polygon points="516.55,294.7 532.75,294.7 524.65,310.5" fill="#e92431"/>
<polygon points="543.21,294.7 559.41,294.7 551.31,310.5" fill="#e92431"/>
<polygon points="560.98,294.7 577.18,294.7 569.08,310.5" fill="#e92431"/>
<polygon points="578.75,294.7 594.95,294.7 586.85,310.5" fill="#e92431"/>
<line x1="338.07" y1="394" x2="338.07" y2="402" stroke="#aeb939" stroke-width="3.3"/>
<line x1="330.47" y1="394" x2="345.67" y2="394" stroke="#aeb939" stroke-width="3.4"/>
<line x1="330.47" y1="402" x2="345.67" y2="402" stroke="#aeb939" stroke-width="3.4"/>
<line x1="364.73" y1="388.6" x2="364.73" y2="398.6" stroke="#aeb939" stroke-width="3.3"/>
<line x1="357.12" y1="388.6" x2="372.33" y2="388.6" stroke="#aeb939" stroke-width="3.4"/>
<line x1="357.12" y1="398.6" x2="372.33" y2="398.6" stroke="#aeb939" stroke-width="3.4"/>
<line x1="382.5" y1="370" x2="382.5" y2="390" stroke="#aeb939" stroke-width="3.3"/>
<line x1="374.89" y1="370" x2="390.1" y2="370" stroke="#aeb939" stroke-width="3.4"/>
<line x1="374.89" y1="390" x2="390.1" y2="390" stroke="#aeb939" stroke-width="3.4"/>
<line x1="400.26" y1="346.3" x2="400.26" y2="368.3" stroke="#aeb939" stroke-width="3.3"/>
<line x1="392.66" y1="346.3" x2="407.87" y2="346.3" stroke="#aeb939" stroke-width="3.4"/>
<line x1="392.66" y1="368.3" x2="407.87" y2="368.3" stroke="#aeb939" stroke-width="3.4"/>
<line x1="426.92" y1="320.5" x2="426.92" y2="356.5" stroke="#aeb939" stroke-width="3.3"/>
<line x1="419.32" y1="320.5" x2="434.52" y2="320.5" stroke="#aeb939" stroke-width="3.4"/>
<line x1="419.32" y1="356.5" x2="434.52" y2="356.5" stroke="#aeb939" stroke-width="3.4"/>
<line x1="444.69" y1="299.4" x2="444.69" y2="345.4" stroke="#aeb939" stroke-width="3.3"/>
<line x1="437.09" y1="299.4" x2="452.29" y2="299.4" stroke="#aeb939" stroke-width="3.4"/>
<line x1="437.09" y1="345.4" x2="452.29" y2="345.4" stroke="#aeb939" stroke-width="3.4"/>
<line x1="462.46" y1="309.6" x2="462.46" y2="349.6" stroke="#aeb939" stroke-width="3.3"/>
<line x1="454.86" y1="309.6" x2="470.06" y2="309.6" stroke="#aeb939" stroke-width="3.4"/>
<line x1="454.86" y1="349.6" x2="470.06" y2="349.6" stroke="#aeb939" stroke-width="3.4"/>
<line x1="489.12" y1="294.9" x2="489.12" y2="334.9" stroke="#aeb939" stroke-width="3.3"/>
<line x1="481.51" y1="294.9" x2="496.72" y2="294.9" stroke="#aeb939" stroke-width="3.4"/>
<line x1="481.51" y1="334.9" x2="496.72" y2="334.9" stroke="#aeb939" stroke-width="3.4"/>
<line x1="506.88" y1="292.7" x2="506.88" y2="332.7" stroke="#aeb939" stroke-width="3.3"/>
<line x1="499.28" y1="292.7" x2="514.49" y2="292.7" stroke="#aeb939" stroke-width="3.4"/>
<line x1="499.28" y1="332.7" x2="514.49" y2="332.7" stroke="#aeb939" stroke-width="3.4"/>
<line x1="524.65" y1="296.4" x2="524.65" y2="333.4" stroke="#aeb939" stroke-width="3.3"/>
<line x1="517.05" y1="296.4" x2="532.25" y2="296.4" stroke="#aeb939" stroke-width="3.4"/>
<line x1="517.05" y1="333.4" x2="532.25" y2="333.4" stroke="#aeb939" stroke-width="3.4"/>
<line x1="551.31" y1="296.4" x2="551.31" y2="333.4" stroke="#aeb939" stroke-width="3.3"/>
<line x1="543.71" y1="296.4" x2="558.91" y2="296.4" stroke="#aeb939" stroke-width="3.4"/>
<line x1="543.71" y1="333.4" x2="558.91" y2="333.4" stroke="#aeb939" stroke-width="3.4"/>
<line x1="569.08" y1="296.4" x2="569.08" y2="333.4" stroke="#aeb939" stroke-width="3.3"/>
<line x1="561.48" y1="296.4" x2="576.68" y2="296.4" stroke="#aeb939" stroke-width="3.4"/>
<line x1="561.48" y1="333.4" x2="576.68" y2="333.4" stroke="#aeb939" stroke-width="3.4"/>
<line x1="586.85" y1="296.4" x2="586.85" y2="333.4" stroke="#aeb939" stroke-width="3.3"/>
<line x1="579.25" y1="296.4" x2="594.45" y2="296.4" stroke="#aeb939" stroke-width="3.4"/>
<line x1="579.25" y1="333.4" x2="594.45" y2="333.4" stroke="#aeb939" stroke-width="3.4"/>
<polyline points="187.02,437.8 204.79,428.8 240.33,422.1 258.11,420.7 275.88,419.1 302.53,415.1 320.3,412.3 338.07,398 364.73,393.6 382.5,380 400.26,357.3 426.92,338.5 444.69,322.4 462.46,329.6 489.12,314.9 506.88,312.7 524.65,314.9 551.31,314.9 569.08,314.9 586.85,314.9" fill="none" stroke="#aeb939" stroke-width="5" stroke-linejoin="round"/>
<rect x="179.22" y="430" width="15.6" height="15.6" fill="#aeb939"/>
<rect x="196.99" y="421" width="15.6" height="15.6" fill="#aeb939"/>
<rect x="232.53" y="414.3" width="15.6" height="15.6" fill="#aeb939"/>
<rect x="250.31" y="412.9" width="15.6" height="15.6" fill="#aeb939"/>
<rect x="268.07" y="411.3" width="15.6" height="15.6" fill="#aeb939"/>
<rect x="294.73" y="407.3" width="15.6" height="15.6" fill="#aeb939"/>
<rect x="312.5" y="404.5" width="15.6" height="15.6" fill="#aeb939"/>
<rect x="330.27" y="390.2" width="15.6" height="15.6" fill="#aeb939"/>
<rect x="356.93" y="385.8" width="15.6" height="15.6" fill="#aeb939"/>
<rect x="374.69" y="372.2" width="15.6" height="15.6" fill="#aeb939"/>
<rect x="392.46" y="349.5" width="15.6" height="15.6" fill="#aeb939"/>
<rect x="419.12" y="330.7" width="15.6" height="15.6" fill="#aeb939"/>
<rect x="436.89" y="314.6" width="15.6" height="15.6" fill="#aeb939"/>
<rect x="454.66" y="321.8" width="15.6" height="15.6" fill="#aeb939"/>
<rect x="481.31" y="307.1" width="15.6" height="15.6" fill="#aeb939"/>
<rect x="499.08" y="304.9" width="15.6" height="15.6" fill="#aeb939"/>
<rect x="516.86" y="307.1" width="15.6" height="15.6" fill="#aeb939"/>
<rect x="543.51" y="307.1" width="15.6" height="15.6" fill="#aeb939"/>
<rect x="561.28" y="307.1" width="15.6" height="15.6" fill="#aeb939"/>
<rect x="579.05" y="307.1" width="15.6" height="15.6" fill="#aeb939"/>
<line x1="275.88" y1="351.3" x2="275.88" y2="357.3" stroke="#231f20" stroke-width="3.3"/>
<line x1="268.27" y1="351.3" x2="283.48" y2="351.3" stroke="#231f20" stroke-width="3.4"/>
<line x1="268.27" y1="357.3" x2="283.48" y2="357.3" stroke="#231f20" stroke-width="3.4"/>
<line x1="302.53" y1="314.3" x2="302.53" y2="322.3" stroke="#231f20" stroke-width="3.3"/>
<line x1="294.93" y1="314.3" x2="310.13" y2="314.3" stroke="#231f20" stroke-width="3.4"/>
<line x1="294.93" y1="322.3" x2="310.13" y2="322.3" stroke="#231f20" stroke-width="3.4"/>
<line x1="320.3" y1="269.5" x2="320.3" y2="289.5" stroke="#231f20" stroke-width="3.3"/>
<line x1="312.7" y1="269.5" x2="327.9" y2="269.5" stroke="#231f20" stroke-width="3.4"/>
<line x1="312.7" y1="289.5" x2="327.9" y2="289.5" stroke="#231f20" stroke-width="3.4"/>
<line x1="338.07" y1="203.5" x2="338.07" y2="233.5" stroke="#231f20" stroke-width="3.3"/>
<line x1="330.47" y1="203.5" x2="345.67" y2="203.5" stroke="#231f20" stroke-width="3.4"/>
<line x1="330.47" y1="233.5" x2="345.67" y2="233.5" stroke="#231f20" stroke-width="3.4"/>
<line x1="364.73" y1="158.9" x2="364.73" y2="194.1" stroke="#231f20" stroke-width="3.3"/>
<line x1="357.12" y1="158.9" x2="372.33" y2="158.9" stroke="#231f20" stroke-width="3.4"/>
<line x1="357.12" y1="194.1" x2="372.33" y2="194.1" stroke="#231f20" stroke-width="3.4"/>
<line x1="382.5" y1="69.7" x2="382.5" y2="118.7" stroke="#231f20" stroke-width="3.3"/>
<line x1="374.89" y1="69.7" x2="390.1" y2="69.7" stroke="#231f20" stroke-width="3.4"/>
<line x1="374.89" y1="118.7" x2="390.1" y2="118.7" stroke="#231f20" stroke-width="3.4"/>
<polyline points="187.02,436.8 204.79,427.2 240.33,399 258.11,376.5 275.88,354.3 302.53,318.3 320.3,279.5 338.07,218.5 364.73,176.5 382.5,94.2" fill="none" stroke="#231f20" stroke-width="5" stroke-linejoin="round"/>
<circle cx="187.02" cy="436.8" r="8" fill="#231f20"/>
<circle cx="204.79" cy="427.2" r="8" fill="#231f20"/>
<circle cx="240.33" cy="399" r="8" fill="#231f20"/>
<circle cx="258.11" cy="376.5" r="8" fill="#231f20"/>
<circle cx="275.88" cy="354.3" r="8" fill="#231f20"/>
<circle cx="302.53" cy="318.3" r="8" fill="#231f20"/>
<circle cx="320.3" cy="279.5" r="8" fill="#231f20"/>
<circle cx="338.07" cy="218.5" r="8" fill="#231f20"/>
<circle cx="364.73" cy="176.5" r="8" fill="#231f20"/>
<circle cx="382.5" cy="94.2" r="8" fill="#231f20"/>
<line x1="864.9" y1="66.5" x2="864.9" y2="454.1" stroke="#231f20" stroke-width="5.6"/>
<line x1="843.2" y1="451.3" x2="1254" y2="451.3" stroke="#231f20" stroke-width="5.6"/>
<line x1="843.2" y1="451.3" x2="864.9" y2="451.3" stroke="#231f20" stroke-width="5.6"/>
<text transform="translate(814.5 466.2) scale(1 1.03)" font-size="38.9" fill="#231f20" stroke="#231f20" stroke-width="0.5">0</text>
<line x1="843.2" y1="374.88" x2="864.9" y2="374.88" stroke="#231f20" stroke-width="5.6"/>
<text transform="translate(792.85 389.48) scale(1 1.03)" font-size="38.9" fill="#231f20" stroke="#231f20" stroke-width="0.5">50</text>
<line x1="843.2" y1="298.46" x2="864.9" y2="298.46" stroke="#231f20" stroke-width="5.6"/>
<text transform="translate(771.19 312.76) scale(1 1.03)" font-size="38.9" fill="#231f20" stroke="#231f20" stroke-width="0.5">100</text>
<line x1="843.2" y1="222.04" x2="864.9" y2="222.04" stroke="#231f20" stroke-width="5.6"/>
<text transform="translate(771.19 236.04) scale(1 1.03)" font-size="38.9" fill="#231f20" stroke="#231f20" stroke-width="0.5">150</text>
<line x1="843.2" y1="145.62" x2="864.9" y2="145.62" stroke="#231f20" stroke-width="5.6"/>
<text transform="translate(771.19 159.32) scale(1 1.03)" font-size="38.9" fill="#231f20" stroke="#231f20" stroke-width="0.5">200</text>
<line x1="843.2" y1="69.2" x2="864.9" y2="69.2" stroke="#231f20" stroke-width="5.6"/>
<text transform="translate(771.19 82.6) scale(1 1.03)" font-size="38.9" fill="#231f20" stroke="#231f20" stroke-width="0.5">250</text>
<text transform="translate(749.2 433) rotate(-90)" font-size="42.6" fill="#231f20" stroke="#231f20" stroke-width="0.5">Tumor area (mm<tspan font-size="32" dy="-24.5">2</tspan><tspan dy="24.5">)</tspan></text>
<text x="967.96" y="74.8" font-size="42.6" font-weight="bold" fill="#231f20" stroke="#231f20" stroke-width="0.3">Day 27</text>
<circle cx="904.7" cy="129.6" r="5.3" fill="#808285"/>
<circle cx="890.2" cy="225.5" r="5.3" fill="#808285"/>
<circle cx="899.9" cy="231.2" r="5.3" fill="#808285"/>
<circle cx="910.4" cy="231.2" r="5.3" fill="#808285"/>
<circle cx="920.9" cy="234.4" r="5.3" fill="#808285"/>
<circle cx="904.7" cy="248.9" r="5.3" fill="#808285"/>
<circle cx="899.9" cy="265.8" r="5.3" fill="#808285"/>
<circle cx="910.4" cy="265.8" r="5.3" fill="#808285"/>
<circle cx="899.9" cy="290.8" r="5.3" fill="#808285"/>
<circle cx="910.4" cy="290.8" r="5.3" fill="#808285"/>
<polygon points="966,293 971.6,303.6 960.4,303.6" fill="#4a5daa"/>
<polygon points="956.5,321.5 962.1,332.1 950.9,332.1" fill="#4a5daa"/>
<polygon points="962,321.5 967.6,332.1 956.4,332.1" fill="#4a5daa"/>
<polygon points="972.5,321.5 978.1,332.1 966.9,332.1" fill="#4a5daa"/>
<polygon points="981.3,322 986.9,332.6 975.7,332.6" fill="#4a5daa"/>
<polygon points="951,329.5 956.6,340.1 945.4,340.1" fill="#4a5daa"/>
<polygon points="966,330 971.6,340.6 960.4,340.6" fill="#4a5daa"/>
<polygon points="974,329.5 979.6,340.1 968.4,340.1" fill="#4a5daa"/>
<polygon points="978.5,329.5 984.1,340.1 972.9,340.1" fill="#4a5daa"/>
<polygon points="966,359.9 971.6,370.5 960.4,370.5" fill="#4a5daa"/>
<polygon points="1026.8,305.1 1035.7,314 1026.8,322.9 1017.9,314" fill="#5a93ce"/>
<circle cx="1026.8" cy="314" r="1.3" fill="#fff"/>
<polygon points="1026.8,314.6 1035.7,323.5 1026.8,332.4 1017.9,323.5" fill="#5a93ce"/>
<circle cx="1026.8" cy="323.5" r="1.3" fill="#fff"/>
<polygon points="1012.2,344.6 1021.1,353.5 1012.2,362.4 1003.3,353.5" fill="#5a93ce"/>
<circle cx="1012.2" cy="353.5" r="1.3" fill="#fff"/>
<polygon points="1026.8,344.6 1035.7,353.5 1026.8,362.4 1017.9,353.5" fill="#5a93ce"/>
<circle cx="1026.8" cy="353.5" r="1.3" fill="#fff"/>
<polygon points="1042,344.6 1050.9,353.5 1042,362.4 1033.1,353.5" fill="#5a93ce"/>
<circle cx="1042" cy="353.5" r="1.3" fill="#fff"/>
<polygon points="1019.5,372.3 1028.4,381.2 1019.5,390.1 1010.6,381.2" fill="#5a93ce"/>
<circle cx="1019.5" cy="381.2" r="1.3" fill="#fff"/>
<polygon points="1034,372.3 1042.9,381.2 1034,390.1 1025.1,381.2" fill="#5a93ce"/>
<circle cx="1034" cy="381.2" r="1.3" fill="#fff"/>
<polygon points="1026.8,401 1035.7,409.9 1026.8,418.8 1017.9,409.9" fill="#5a93ce"/>
<circle cx="1026.8" cy="409.9" r="1.3" fill="#fff"/>
<circle cx="1088" cy="298.7" r="5.6" fill="#fff" stroke="#8f5da6" stroke-width="4.4"/>
<circle cx="1103.3" cy="327.7" r="5.6" fill="#fff" stroke="#8f5da6" stroke-width="4.4"/>
<circle cx="1073" cy="334.5" r="5.6" fill="#fff" stroke="#8f5da6" stroke-width="4.4"/>
<circle cx="1103.3" cy="344.5" r="5.6" fill="#fff" stroke="#8f5da6" stroke-width="4.4"/>
<circle cx="1073" cy="353.5" r="5.6" fill="#fff" stroke="#8f5da6" stroke-width="4.4"/>
<circle cx="1073" cy="376.4" r="5.6" fill="#fff" stroke="#8f5da6" stroke-width="4.4"/>
<circle cx="1103.3" cy="376.4" r="5.6" fill="#fff" stroke="#8f5da6" stroke-width="4.4"/>
<circle cx="1088" cy="402.2" r="5.6" fill="#fff" stroke="#8f5da6" stroke-width="4.4"/>
<circle cx="1088" cy="421" r="5.6" fill="#fff" stroke="#8f5da6" stroke-width="4.4"/>
<polygon points="1142.7,354 1154.3,354 1148.5,364.8" fill="#e9777b"/>
<polygon points="1127.4,366.1 1139,366.1 1133.2,376.9" fill="#e9777b"/>
<polygon points="1158.8,365.4 1170.4,365.4 1164.6,376.2" fill="#e9777b"/>
<polygon points="1138.6,371 1150.2,371 1144.4,381.8" fill="#e9777b"/>
<polygon points="1147.5,371 1159.1,371 1153.3,381.8" fill="#e9777b"/>
<polygon points="1132.2,391.1 1143.8,391.1 1138,401.9" fill="#e9777b"/>
<polygon points="1142.7,392.7 1154.3,392.7 1148.5,403.5" fill="#e9777b"/>
<polygon points="1152.3,391.1 1163.9,391.1 1158.1,401.9" fill="#e9777b"/>
<polygon points="1142.7,408.9 1154.3,408.9 1148.5,419.7" fill="#e9777b"/>
<rect x="1189.1" y="382.4" width="10.6" height="10.6" fill="#aeb939"/>
<rect x="1216.5" y="382.4" width="10.6" height="10.6" fill="#aeb939"/>
<rect x="1200.4" y="390.4" width="10.6" height="10.6" fill="#aeb939"/>
<rect x="1216.5" y="415.4" width="10.6" height="10.6" fill="#aeb939"/>
<rect x="1197.2" y="417" width="10.6" height="10.6" fill="#aeb939"/>
<rect x="1211.7" y="424.3" width="10.6" height="10.6" fill="#aeb939"/>
<rect x="1197.2" y="427.5" width="10.6" height="10.6" fill="#aeb939"/>
<line x1="905.1" y1="195.7" x2="905.1" y2="288.3" stroke="#231f20" stroke-width="5.4"/>
<line x1="895.1" y1="195.7" x2="915.1" y2="195.7" stroke="#231f20" stroke-width="5.4"/>
<line x1="895.1" y1="288.3" x2="915.1" y2="288.3" stroke="#231f20" stroke-width="5.4"/>
<line x1="885.1" y1="240.9" x2="925.1" y2="240.9" stroke="#231f20" stroke-width="5.4"/>
<line x1="966" y1="314" x2="966" y2="346.9" stroke="#231f20" stroke-width="5.4"/>
<line x1="956" y1="314" x2="976" y2="314" stroke="#231f20" stroke-width="5.4"/>
<line x1="956" y1="346.9" x2="976" y2="346.9" stroke="#231f20" stroke-width="5.4"/>
<line x1="946" y1="330.8" x2="986" y2="330.8" stroke="#231f20" stroke-width="5.4"/>
<line x1="1026.8" y1="328.3" x2="1026.8" y2="390.4" stroke="#231f20" stroke-width="5.4"/>
<line x1="1016.8" y1="328.3" x2="1036.8" y2="328.3" stroke="#231f20" stroke-width="5.4"/>
<line x1="1016.8" y1="390.4" x2="1036.8" y2="390.4" stroke="#231f20" stroke-width="5.4"/>
<line x1="1006.8" y1="359.5" x2="1046.8" y2="359.5" stroke="#231f20" stroke-width="5.4"/>
<line x1="1088" y1="321.2" x2="1088" y2="397.7" stroke="#231f20" stroke-width="5.4"/>
<line x1="1078" y1="321.2" x2="1098" y2="321.2" stroke="#231f20" stroke-width="5.4"/>
<line x1="1078" y1="397.7" x2="1098" y2="397.7" stroke="#231f20" stroke-width="5.4"/>
<line x1="1068" y1="359.5" x2="1108" y2="359.5" stroke="#231f20" stroke-width="5.4"/>
<line x1="1148.8" y1="366.7" x2="1148.8" y2="401.9" stroke="#231f20" stroke-width="5.4"/>
<line x1="1138.8" y1="366.7" x2="1158.8" y2="366.7" stroke="#231f20" stroke-width="5.4"/>
<line x1="1138.8" y1="401.9" x2="1158.8" y2="401.9" stroke="#231f20" stroke-width="5.4"/>
<line x1="1128.8" y1="384.4" x2="1168.8" y2="384.4" stroke="#231f20" stroke-width="5.4"/>
<line x1="1209.7" y1="389.3" x2="1209.7" y2="428.3" stroke="#231f20" stroke-width="5.4"/>
<line x1="1199.7" y1="389.3" x2="1219.7" y2="389.3" stroke="#231f20" stroke-width="5.4"/>
<line x1="1199.7" y1="428.3" x2="1219.7" y2="428.3" stroke="#231f20" stroke-width="5.4"/>
<line x1="1189.7" y1="409" x2="1229.7" y2="409" stroke="#231f20" stroke-width="5.4"/>
<line x1="902.8" y1="109" x2="967.9" y2="109" stroke="#231f20" stroke-width="3.7"/>
<text x="906.56" y="114.4" font-size="48" letter-spacing="3.42" fill="#231f20" stroke="#231f20" stroke-width="0.9" stroke-linejoin="miter">***</text>
<line x1="964.4" y1="167.5" x2="1212.1" y2="167.5" stroke="#231f20" stroke-width="3.7"/>
<text x="1048.56" y="172.8" font-size="48" letter-spacing="3.42" fill="#231f20" stroke="#231f20" stroke-width="0.9" stroke-linejoin="miter">***</text>
<line x1="964.4" y1="201.8" x2="1150.9" y2="201.8" stroke="#231f20" stroke-width="3.7"/>
<text x="1029.21" y="209.9" font-size="48" letter-spacing="3.42" fill="#231f20" stroke="#231f20" stroke-width="0.9" stroke-linejoin="miter">**</text>
<line x1="964.4" y1="235.2" x2="1086.9" y2="235.2" stroke="#231f20" stroke-width="3.7"/>
<text transform="translate(983.99 231.2) scale(1 1.03)" font-size="35.8" fill="#231f20" stroke="#231f20" stroke-width="0.5">p=0.66</text>
<line x1="964.4" y1="269.1" x2="1028.8" y2="269.1" stroke="#231f20" stroke-width="3.7"/>
<text transform="translate(950.79 265) scale(1 1.03)" font-size="35.8" fill="#231f20" stroke="#231f20" stroke-width="0.5">p=0.75</text>
<line x1="1147.2" y1="332" x2="1212.5" y2="332" stroke="#231f20" stroke-width="3.7"/>
<text transform="translate(1137.65 324) scale(1 1.03)" font-size="35.8" fill="#231f20" stroke="#231f20" stroke-width="0.5">p&gt;0.99</text>
<line x1="1232.9" y1="64.3" x2="1287.5" y2="64.3" stroke="#231f20" stroke-width="5.4"/>
<circle cx="1260.2" cy="64.3" r="7.7" fill="#231f20"/>
<text x="1297.07" y="74.8" font-size="39.48" fill="#231f20" stroke="#231f20" stroke-width="0.5">Isotypes (DANA + hIgG1)</text>
<line x1="1232.9" y1="107.5" x2="1287.5" y2="107.5" stroke="#3a5ca9" stroke-width="5.4"/>
<polygon points="1260.2,99.5 1268.3,115.3 1252.1,115.3" fill="#3a5ca9"/>
<text x="1296.67" y="117.7" font-size="39.32" fill="#3a5ca9" stroke="#3a5ca9" stroke-width="0.5">F9H4-DANA + hIgG1 isotype</text>
<line x1="1232.9" y1="153.8" x2="1287.5" y2="153.8" stroke="#0098b2" stroke-width="5.4"/>
<path fill-rule="evenodd" fill="#0098b2" d="M1260.2 142.5L1268.8 153.8L1260.2 165.1L1251.6 153.8ZM1260.2 149.9L1262.1 153.8L1260.2 157.7L1258.3 153.8Z"/>
<text x="1296.67" y="163.9" font-size="39.41" fill="#0098b2" stroke="#0098b2" stroke-width="0.5">F9H4-DANA + zalutumumab</text>
<line x1="1232.9" y1="193.6" x2="1287.5" y2="193.6" stroke="#933d8f" stroke-width="5.4"/>
<circle cx="1260.2" cy="193.6" r="7" fill="#fff" stroke="#933d8f" stroke-width="4.4"/>
<text x="1296.67" y="205.7" font-size="39.34" fill="#933d8f" stroke="#933d8f" stroke-width="0.5">F9H4-DANA + nimotuzumab</text>
<line x1="1232.9" y1="236.2" x2="1287.5" y2="236.2" stroke="#e92431" stroke-width="5.4"/>
<polygon points="1252.1,228.5 1268.3,228.5 1260.2,244.3" fill="#e92431"/>
<text x="1296.67" y="248.5" font-size="39.38" fill="#e92431" stroke="#e92431" stroke-width="0.5">F9H4-DANA + necitumumab</text>
<line x1="1232.9" y1="282.8" x2="1287.5" y2="282.8" stroke="#aeb939" stroke-width="5.4"/>
<rect x="1252.2" y="274.8" width="16" height="16" fill="#aeb939"/>
<text x="1296.67" y="295.6" font-size="39.37" fill="#aeb939" stroke="#aeb939" stroke-width="0.5">F9H4-DANA + cetuximab</text>
<text transform="translate(0.07 654.8) scale(1 1.03)" font-size="63.4" font-weight="bold" fill="#231f20" stroke="#231f20" stroke-width="0.3">B</text>
<rect x="178.5" y="1009.4" width="28.7" height="166.6" fill="#231f20"/>
<line x1="234.45" y1="872.5" x2="234.45" y2="877.8" stroke="#3a5da9" stroke-width="5.2"/>
<line x1="227.45" y1="872.5" x2="241.45" y2="872.5" stroke="#3a5da9" stroke-width="5.2"/>
<path d="M222.7 1176V879.4H246.2V1176" fill="#fff" stroke="#3a5da9" stroke-width="5.2" stroke-linejoin="miter"/>
<line x1="276.65" y1="830" x2="276.65" y2="848.6" stroke="#f06a36" stroke-width="5.2"/>
<line x1="269.65" y1="830" x2="283.65" y2="830" stroke="#f06a36" stroke-width="5.2"/>
<path d="M264.9 1176V850.2H288.4V1176" fill="#fff" stroke="#f06a36" stroke-width="5.2" stroke-linejoin="miter"/>
<line x1="319.05" y1="961.2" x2="319.05" y2="966" stroke="#007f43" stroke-width="5.2"/>
<line x1="312.05" y1="961.2" x2="326.05" y2="961.2" stroke="#007f43" stroke-width="5.2"/>
<path d="M307.3 1176V967.6H330.8V1176" fill="#fff" stroke="#007f43" stroke-width="5.2" stroke-linejoin="miter"/>
<line x1="361.45" y1="804.1" x2="361.45" y2="815.4" stroke="#007f43" stroke-width="5.2"/>
<line x1="354.45" y1="804.1" x2="368.45" y2="804.1" stroke="#007f43" stroke-width="5.2"/>
<rect x="347.1" y="814.4" width="28.7" height="361.6" fill="#007f43"/>
<line x1="403.35" y1="811.8" x2="403.35" y2="819.7" stroke="#f06a36" stroke-width="5.2"/>
<line x1="396.35" y1="811.8" x2="410.35" y2="811.8" stroke="#f06a36" stroke-width="5.2"/>
<rect x="389" y="818.7" width="28.7" height="357.3" fill="#f06a36"/>
<line x1="473.95" y1="1116.6" x2="473.95" y2="1126.3" stroke="#231f20" stroke-width="5.2"/>
<line x1="466.95" y1="1116.6" x2="480.95" y2="1116.6" stroke="#231f20" stroke-width="5.2"/>
<rect x="459.6" y="1125.3" width="28.7" height="50.7" fill="#231f20"/>
<line x1="516.25" y1="989" x2="516.25" y2="992.6" stroke="#3a5da9" stroke-width="5.2"/>
<line x1="509.25" y1="989" x2="523.25" y2="989" stroke="#3a5da9" stroke-width="5.2"/>
<path d="M504.5 1176V994.2H528V1176" fill="#fff" stroke="#3a5da9" stroke-width="5.2" stroke-linejoin="miter"/>
<line x1="558.35" y1="954.1" x2="558.35" y2="966.3" stroke="#f06a36" stroke-width="5.2"/>
<line x1="551.35" y1="954.1" x2="565.35" y2="954.1" stroke="#f06a36" stroke-width="5.2"/>
<path d="M546.6 1176V967.9H570.1V1176" fill="#fff" stroke="#f06a36" stroke-width="5.2" stroke-linejoin="miter"/>
<line x1="600.45" y1="1117.1" x2="600.45" y2="1126.3" stroke="#007f43" stroke-width="5.2"/>
<line x1="593.45" y1="1117.1" x2="607.45" y2="1117.1" stroke="#007f43" stroke-width="5.2"/>
<path d="M588.7 1176V1127.9H612.2V1176" fill="#fff" stroke="#007f43" stroke-width="5.2" stroke-linejoin="miter"/>
<line x1="642.45" y1="967.5" x2="642.45" y2="976.2" stroke="#007f43" stroke-width="5.2"/>
<line x1="635.45" y1="967.5" x2="649.45" y2="967.5" stroke="#007f43" stroke-width="5.2"/>
<rect x="628.1" y="975.2" width="28.7" height="200.8" fill="#007f43"/>
<line x1="684.75" y1="925.9" x2="684.75" y2="933.5" stroke="#f06a36" stroke-width="5.2"/>
<line x1="677.75" y1="925.9" x2="691.75" y2="925.9" stroke="#f06a36" stroke-width="5.2"/>
<rect x="670.4" y="932.5" width="28.7" height="243.5" fill="#f06a36"/>
<line x1="755.35" y1="1068.1" x2="755.35" y2="1075.1" stroke="#231f20" stroke-width="5.2"/>
<line x1="748.35" y1="1068.1" x2="762.35" y2="1068.1" stroke="#231f20" stroke-width="5.2"/>
<rect x="741" y="1074.1" width="28.7" height="101.9" fill="#231f20"/>
<line x1="797.45" y1="1019.4" x2="797.45" y2="1024.7" stroke="#3a5da9" stroke-width="5.2"/>
<line x1="790.45" y1="1019.4" x2="804.45" y2="1019.4" stroke="#3a5da9" stroke-width="5.2"/>
<path d="M785.7 1176V1026.3H809.2V1176" fill="#fff" stroke="#3a5da9" stroke-width="5.2" stroke-linejoin="miter"/>
<line x1="839.55" y1="961.5" x2="839.55" y2="970.6" stroke="#f06a36" stroke-width="5.2"/>
<line x1="832.55" y1="961.5" x2="846.55" y2="961.5" stroke="#f06a36" stroke-width="5.2"/>
<path d="M827.8 1176V972.2H851.3V1176" fill="#fff" stroke="#f06a36" stroke-width="5.2" stroke-linejoin="miter"/>
<line x1="881.65" y1="1020.8" x2="881.65" y2="1025.6" stroke="#007f43" stroke-width="5.2"/>
<line x1="874.65" y1="1020.8" x2="888.65" y2="1020.8" stroke="#007f43" stroke-width="5.2"/>
<path d="M869.9 1176V1027.2H893.4V1176" fill="#fff" stroke="#007f43" stroke-width="5.2" stroke-linejoin="miter"/>
<line x1="924.15" y1="973.5" x2="924.15" y2="990" stroke="#007f43" stroke-width="5.2"/>
<line x1="917.15" y1="973.5" x2="931.15" y2="973.5" stroke="#007f43" stroke-width="5.2"/>
<rect x="909.8" y="989" width="28.7" height="187" fill="#007f43"/>
<line x1="966.45" y1="934.5" x2="966.45" y2="940.3" stroke="#f06a36" stroke-width="5.2"/>
<line x1="959.45" y1="934.5" x2="973.45" y2="934.5" stroke="#f06a36" stroke-width="5.2"/>
<rect x="952.1" y="939.3" width="28.7" height="236.7" fill="#f06a36"/>
<line x1="1036.35" y1="1097.5" x2="1036.35" y2="1100.9" stroke="#231f20" stroke-width="5.2"/>
<line x1="1029.35" y1="1097.5" x2="1043.35" y2="1097.5" stroke="#231f20" stroke-width="5.2"/>
<rect x="1022" y="1099.9" width="28.7" height="76.1" fill="#231f20"/>
<line x1="1078.85" y1="1067.6" x2="1078.85" y2="1074.8" stroke="#3a5da9" stroke-width="5.2"/>
<line x1="1071.85" y1="1067.6" x2="1085.85" y2="1067.6" stroke="#3a5da9" stroke-width="5.2"/>
<path d="M1067.1 1176V1076.4H1090.6V1176" fill="#fff" stroke="#3a5da9" stroke-width="5.2" stroke-linejoin="miter"/>
<line x1="1120.95" y1="1063" x2="1120.95" y2="1068.2" stroke="#f06a36" stroke-width="5.2"/>
<line x1="1113.95" y1="1063" x2="1127.95" y2="1063" stroke="#f06a36" stroke-width="5.2"/>
<path d="M1109.2 1176V1069.8H1132.7V1176" fill="#fff" stroke="#f06a36" stroke-width="5.2" stroke-linejoin="miter"/>
<line x1="1163.25" y1="1057.4" x2="1163.25" y2="1070" stroke="#007f43" stroke-width="5.2"/>
<line x1="1156.25" y1="1057.4" x2="1170.25" y2="1057.4" stroke="#007f43" stroke-width="5.2"/>
<path d="M1151.5 1176V1071.6H1175V1176" fill="#fff" stroke="#007f43" stroke-width="5.2" stroke-linejoin="miter"/>
<line x1="1205.25" y1="1044.9" x2="1205.25" y2="1053.6" stroke="#007f43" stroke-width="5.2"/>
<line x1="1198.25" y1="1044.9" x2="1212.25" y2="1044.9" stroke="#007f43" stroke-width="5.2"/>
<rect x="1190.9" y="1052.6" width="28.7" height="123.4" fill="#007f43"/>
<line x1="1247.35" y1="1030.8" x2="1247.35" y2="1047.3" stroke="#f06a36" stroke-width="5.2"/>
<line x1="1240.35" y1="1030.8" x2="1254.35" y2="1030.8" stroke="#f06a36" stroke-width="5.2"/>
<rect x="1233" y="1046.3" width="28.7" height="129.7" fill="#f06a36"/>
<line x1="164.2" y1="771.1" x2="164.2" y2="1178.7" stroke="#231f20" stroke-width="5.3"/>
<line x1="142.4" y1="1176" x2="1278" y2="1176" stroke="#231f20" stroke-width="5.4"/>
<line x1="142.4" y1="1176" x2="164.2" y2="1176" stroke="#231f20" stroke-width="5.3"/>
<text transform="translate(116.55 1187.6) scale(1 1.03)" font-size="39" fill="#231f20" stroke="#231f20" stroke-width="0.5">0</text>
<line x1="142.4" y1="1075.42" x2="164.2" y2="1075.42" stroke="#231f20" stroke-width="5.3"/>
<text transform="translate(94.84 1087.02) scale(1 1.03)" font-size="39" fill="#231f20" stroke="#231f20" stroke-width="0.5">20</text>
<line x1="142.4" y1="974.84" x2="164.2" y2="974.84" stroke="#231f20" stroke-width="5.3"/>
<text transform="translate(94.84 986.44) scale(1 1.03)" font-size="39" fill="#231f20" stroke="#231f20" stroke-width="0.5">40</text>
<line x1="142.4" y1="874.26" x2="164.2" y2="874.26" stroke="#231f20" stroke-width="5.3"/>
<text transform="translate(94.84 885.86) scale(1 1.03)" font-size="39" fill="#231f20" stroke="#231f20" stroke-width="0.5">60</text>
<line x1="142.4" y1="773.68" x2="164.2" y2="773.68" stroke="#231f20" stroke-width="5.3"/>
<text transform="translate(94.84 785.28) scale(1 1.03)" font-size="39" fill="#231f20" stroke="#231f20" stroke-width="0.5">80</text>
<line x1="297.7" y1="1176" x2="297.7" y2="1197.6" stroke="#231f20" stroke-width="5.2"/>
<text transform="translate(255.28 1236.3) scale(1 1.03)" font-size="39" fill="#231f20" stroke="#231f20" stroke-width="0.5">A549</text>
<line x1="578.6" y1="1176" x2="578.6" y2="1197.6" stroke="#231f20" stroke-width="5.2"/>
<text transform="translate(494.45 1236.3) scale(1 1.03)" font-size="39" fill="#231f20" stroke="#231f20" stroke-width="0.5">HCC2935</text>
<line x1="860.3" y1="1176" x2="860.3" y2="1197.6" stroke="#231f20" stroke-width="5.2"/>
<text transform="translate(776.15 1236.3) scale(1 1.03)" font-size="39" fill="#231f20" stroke="#231f20" stroke-width="0.5">HCC4006</text>
<line x1="1141.3" y1="1176" x2="1141.3" y2="1197.6" stroke="#231f20" stroke-width="5.2"/>
<text transform="translate(1045.25 1236.3) scale(1 1.03)" font-size="39" fill="#231f20" stroke="#231f20" stroke-width="0.5">NCI-H1703</text>
<circle cx="186" cy="1007.5" r="5.4" fill="#231f20"/>
<circle cx="192.2" cy="1005.1" r="5.4" fill="#231f20"/>
<circle cx="201.2" cy="1005.5" r="5.4" fill="#231f20"/>
<circle cx="225.7" cy="870.8" r="5.4" fill="#231f20"/>
<circle cx="225.7" cy="882" r="5.4" fill="#231f20"/>
<circle cx="243.7" cy="877.2" r="5.4" fill="#231f20"/>
<circle cx="276.6" cy="817.8" r="5.4" fill="#231f20"/>
<circle cx="276.6" cy="847.6" r="5.4" fill="#231f20"/>
<circle cx="276.6" cy="876.8" r="5.4" fill="#231f20"/>
<circle cx="309.5" cy="970.4" r="5.4" fill="#231f20"/>
<circle cx="318.1" cy="961.3" r="5.4" fill="#231f20"/>
<circle cx="327" cy="963.3" r="5.4" fill="#231f20"/>
<circle cx="360.8" cy="792.9" r="5.4" fill="#231f20"/>
<circle cx="352.1" cy="826.1" r="5.4" fill="#231f20"/>
<circle cx="369.8" cy="823" r="5.4" fill="#231f20"/>
<circle cx="394.4" cy="811.5" r="5.4" fill="#231f20"/>
<circle cx="412.4" cy="814.6" r="5.4" fill="#231f20"/>
<circle cx="403.3" cy="829.9" r="5.4" fill="#231f20"/>
<circle cx="464.7" cy="1115.4" r="5.4" fill="#231f20"/>
<circle cx="482.4" cy="1120.5" r="5.4" fill="#231f20"/>
<circle cx="473.5" cy="1128" r="5.4" fill="#231f20"/>
<circle cx="506.5" cy="994.2" r="5.4" fill="#231f20"/>
<circle cx="515.6" cy="988.7" r="5.4" fill="#231f20"/>
<circle cx="524.9" cy="991.6" r="5.4" fill="#231f20"/>
<circle cx="549.2" cy="950" r="5.4" fill="#231f20"/>
<circle cx="567" cy="958.9" r="5.4" fill="#231f20"/>
<circle cx="558.1" cy="986.1" r="5.4" fill="#231f20"/>
<circle cx="591.1" cy="1115.4" r="5.4" fill="#231f20"/>
<circle cx="609.3" cy="1120.5" r="5.4" fill="#231f20"/>
<circle cx="600.2" cy="1141.5" r="5.4" fill="#231f20"/>
<circle cx="642.7" cy="962.9" r="5.4" fill="#231f20"/>
<circle cx="642.7" cy="974.4" r="5.4" fill="#231f20"/>
<circle cx="642.7" cy="989.5" r="5.4" fill="#231f20"/>
<circle cx="684.5" cy="920.8" r="5.4" fill="#231f20"/>
<circle cx="693.9" cy="934" r="5.4" fill="#231f20"/>
<circle cx="675.5" cy="942.3" r="5.4" fill="#231f20"/>
<circle cx="755" cy="1062.6" r="5.4" fill="#231f20"/>
<circle cx="764.7" cy="1076.7" r="5.4" fill="#231f20"/>
<circle cx="745.5" cy="1077" r="5.4" fill="#231f20"/>
<circle cx="788.2" cy="1020.3" r="5.4" fill="#231f20"/>
<circle cx="806.3" cy="1022" r="5.4" fill="#231f20"/>
<circle cx="788.2" cy="1031.1" r="5.4" fill="#231f20"/>
<circle cx="830.4" cy="962" r="5.4" fill="#231f20"/>
<circle cx="848.8" cy="962" r="5.4" fill="#231f20"/>
<circle cx="839.5" cy="984.7" r="5.4" fill="#231f20"/>
<circle cx="872.5" cy="1028.9" r="5.4" fill="#231f20"/>
<circle cx="881.6" cy="1020" r="5.4" fill="#231f20"/>
<circle cx="890.5" cy="1026.8" r="5.4" fill="#231f20"/>
<circle cx="923.7" cy="962.9" r="5.4" fill="#231f20"/>
<circle cx="923.7" cy="988.7" r="5.4" fill="#231f20"/>
<circle cx="923.7" cy="1014.8" r="5.4" fill="#231f20"/>
<circle cx="957.1" cy="933.7" r="5.4" fill="#231f20"/>
<circle cx="975.3" cy="940.5" r="5.4" fill="#231f20"/>
<circle cx="957.1" cy="944.8" r="5.4" fill="#231f20"/>
<circle cx="1027.2" cy="1092.7" r="5.4" fill="#231f20"/>
<circle cx="1045" cy="1096.8" r="5.4" fill="#231f20"/>
<circle cx="1036" cy="1098" r="5.4" fill="#231f20"/>
<circle cx="1069.3" cy="1067.6" r="5.4" fill="#231f20"/>
<circle cx="1087.7" cy="1070.2" r="5.4" fill="#231f20"/>
<circle cx="1078.6" cy="1082.7" r="5.4" fill="#231f20"/>
<circle cx="1111.8" cy="1073.3" r="5.4" fill="#231f20"/>
<circle cx="1120.9" cy="1064.3" r="5.4" fill="#231f20"/>
<circle cx="1129.8" cy="1064.7" r="5.4" fill="#231f20"/>
<circle cx="1163" cy="1045.4" r="5.4" fill="#231f20"/>
<circle cx="1153.9" cy="1081.5" r="5.4" fill="#231f20"/>
<circle cx="1171.9" cy="1079.6" r="5.4" fill="#231f20"/>
<circle cx="1196" cy="1044.9" r="5.4" fill="#231f20"/>
<circle cx="1214.1" cy="1047" r="5.4" fill="#231f20"/>
<circle cx="1205.1" cy="1066.4" r="5.4" fill="#231f20"/>
<circle cx="1247.2" cy="1016" r="5.4" fill="#231f20"/>
<circle cx="1247.2" cy="1055.7" r="5.4" fill="#231f20"/>
<circle cx="1247.2" cy="1067.8" r="5.4" fill="#231f20"/>
<text transform="translate(69.6 1183) rotate(-90) scale(1 1.06)" font-size="42.5" fill="#231f20" stroke="#231f20" stroke-width="0.5">CD107a<tspan font-size="30" dy="-19">+</tspan><tspan dy="19"> NK cells (%)</tspan></text>
<line x1="193.2" y1="630.1" x2="404.2" y2="630.1" stroke="#000" stroke-width="3.5"/>
<text x="272.49" y="637.11" font-size="41" letter-spacing="3.28" fill="#231f20" stroke="#231f20" stroke-width="1" stroke-linejoin="miter">***</text>
<line x1="236" y1="656.7" x2="404.2" y2="656.7" stroke="#000" stroke-width="3.5"/>
<text x="301.09" y="665.61" font-size="41" letter-spacing="3.28" fill="#231f20" stroke="#231f20" stroke-width="1" stroke-linejoin="miter">***</text>
<line x1="277.8" y1="704.9" x2="404.2" y2="704.9" stroke="#000" stroke-width="3.5"/>
<text transform="translate(308.06 693) scale(1 1.03)" font-size="35.9" fill="#231f20" stroke="#231f20" stroke-width="0.5">p=0.07</text>
<line x1="320.2" y1="735" x2="404.2" y2="735" stroke="#000" stroke-width="3.5"/>
<text x="336.99" y="743.71" font-size="41" letter-spacing="3.28" fill="#231f20" stroke="#231f20" stroke-width="1" stroke-linejoin="miter">***</text>
<line x1="362.5" y1="779.7" x2="404.2" y2="779.7" stroke="#000" stroke-width="3.5"/>
<text transform="translate(331.1 772.1) scale(1 1.03)" font-size="35.9" fill="#231f20" stroke="#231f20" stroke-width="0.5">p=0.99</text>
<line x1="475.2" y1="799.2" x2="685.7" y2="799.2" stroke="#000" stroke-width="3.5"/>
<text x="554.29" y="805.71" font-size="41" letter-spacing="3.28" fill="#231f20" stroke="#231f20" stroke-width="1" stroke-linejoin="miter">***</text>
<line x1="517.2" y1="826.2" x2="685.7" y2="826.2" stroke="#000" stroke-width="3.5"/>
<text x="575.49" y="833.91" font-size="41" letter-spacing="3.28" fill="#231f20" stroke="#231f20" stroke-width="1" stroke-linejoin="miter">***</text>
<line x1="559.3" y1="852.5" x2="685.7" y2="852.5" stroke="#000" stroke-width="3.5"/>
<text x="612.53" y="860.31" font-size="41" letter-spacing="3.28" fill="#231f20" stroke="#231f20" stroke-width="1" stroke-linejoin="miter">*</text>
<line x1="601.4" y1="879.2" x2="685.7" y2="879.2" stroke="#000" stroke-width="3.5"/>
<text x="618.59" y="887.21" font-size="41" letter-spacing="3.28" fill="#231f20" stroke="#231f20" stroke-width="1" stroke-linejoin="miter">***</text>
<line x1="643.7" y1="906.5" x2="685.7" y2="906.5" stroke="#000" stroke-width="3.5"/>
<text x="646.51" y="915.71" font-size="41" letter-spacing="3.28" fill="#231f20" stroke="#231f20" stroke-width="1" stroke-linejoin="miter">**</text>
<line x1="756.4" y1="793.5" x2="967" y2="793.5" stroke="#000" stroke-width="3.5"/>
<text x="835.69" y="800.31" font-size="41" letter-spacing="3.28" fill="#231f20" stroke="#231f20" stroke-width="1" stroke-linejoin="miter">***</text>
<line x1="798.9" y1="820.2" x2="967" y2="820.2" stroke="#000" stroke-width="3.5"/>
<text x="856.69" y="828.91" font-size="41" letter-spacing="3.28" fill="#231f20" stroke="#231f20" stroke-width="1" stroke-linejoin="miter">***</text>
<line x1="841" y1="864.5" x2="967" y2="864.5" stroke="#000" stroke-width="3.5"/>
<text transform="translate(858.54 853.9) scale(1 1.03)" font-size="35.9" fill="#231f20" stroke="#231f20" stroke-width="0.5">p=0.05</text>
<line x1="882.8" y1="891.5" x2="967" y2="891.5" stroke="#000" stroke-width="3.5"/>
<text x="900.09" y="899.41" font-size="41" letter-spacing="3.28" fill="#231f20" stroke="#231f20" stroke-width="1" stroke-linejoin="miter">***</text>
<line x1="924.9" y1="918.2" x2="967" y2="918.2" stroke="#000" stroke-width="3.5"/>
<text x="921.39" y="928.21" font-size="41" letter-spacing="3.28" fill="#231f20" stroke="#231f20" stroke-width="1" stroke-linejoin="miter">***</text>
<line x1="1039.9" y1="838.5" x2="1250.2" y2="838.5" stroke="#000" stroke-width="3.5"/>
<text x="1115.39" y="845.91" font-size="41" letter-spacing="3.28" fill="#231f20" stroke="#231f20" stroke-width="1" stroke-linejoin="miter">***</text>
<line x1="1082" y1="882.8" x2="1250.2" y2="882.8" stroke="#000" stroke-width="3.5"/>
<text transform="translate(1130 878.2) scale(1 1.03)" font-size="35.9" fill="#231f20" stroke="#231f20" stroke-width="0.5">p=0.09</text>
<line x1="1124.1" y1="923.6" x2="1250.2" y2="923.6" stroke="#000" stroke-width="3.5"/>
<text transform="translate(1153.95 918.6) scale(1 1.03)" font-size="35.9" fill="#231f20" stroke="#231f20" stroke-width="0.5">p=0.27</text>
<line x1="1166.1" y1="964.5" x2="1250.2" y2="964.5" stroke="#000" stroke-width="3.5"/>
<text transform="translate(1174.36 959) scale(1 1.03)" font-size="35.9" fill="#231f20" stroke="#231f20" stroke-width="0.5">p=0.21</text>
<line x1="1208.4" y1="998.7" x2="1250.2" y2="998.7" stroke="#000" stroke-width="3.5"/>
<text transform="translate(1198.54 994.2) scale(1 1.03)" font-size="35.9" fill="#231f20" stroke="#231f20" stroke-width="0.5">p=0.98</text>
<rect x="1270.4" y="642.4" width="54.8" height="27" fill="#231f20"/>
<text x="1337.96" y="669.6" font-size="39.5" fill="#231f20" stroke="#231f20" stroke-width="0.5">Isotypes (mIgG1 + hIgG1)</text>
<rect x="1273" y="692.7" width="49.6" height="21.8" fill="#fff" stroke="#3a5da9" stroke-width="5.2"/>
<text x="1338.24" y="717.3" font-size="39.17" fill="#3a5da9" stroke="#3a5da9" stroke-width="0.5">mIgG1 Isotype + Cetuximab</text>
<rect x="1273" y="740.5" width="49.6" height="21.8" fill="#fff" stroke="#f06a36" stroke-width="5.2"/>
<text x="1338.24" y="765.1" font-size="39.13" fill="#f06a36" stroke="#f06a36" stroke-width="0.5">mIgG1 Isotype + Cetuximab-GAALIE</text>
<rect x="1273" y="788.2" width="49.6" height="21.8" fill="#fff" stroke="#007f43" stroke-width="5.2"/>
<text x="1338.52" y="812.8" font-size="38.96" fill="#007f43" stroke="#007f43" stroke-width="0.5">hIgG1 Isotype + F9H4</text>
<rect x="1270.4" y="833.4" width="54.8" height="27" fill="#007f43"/>
<text x="1338.95" y="860.6" font-size="39.07" font-weight="bold" fill="#007f43" stroke="#007f43" stroke-width="0.3">F9H4 + Cetuximab</text>
<rect x="1270.4" y="881.1" width="54.8" height="27" fill="#f06a36"/>
<text x="1338.94" y="908.3" font-size="39.11" font-weight="bold" fill="#f06a36" stroke="#f06a36" stroke-width="0.3">F9H4 + Cetuximab-GAALIE</text>
<text transform="translate(0.11 1337.3) scale(1 1.055)" font-size="62.3" font-weight="bold" fill="#231f20" stroke="#231f20" stroke-width="0.3">C</text>
<rect x="181.1" y="1784.1" width="28.7" height="28.7" fill="#231f20"/>
<line x1="237.55" y1="1647.4" x2="237.55" y2="1652.4" stroke="#3a5da9" stroke-width="5.2"/>
<line x1="230.55" y1="1647.4" x2="244.55" y2="1647.4" stroke="#3a5da9" stroke-width="5.2"/>
<path d="M225.8 1812.8V1654H249.3V1812.8" fill="#fff" stroke="#3a5da9" stroke-width="5.2" stroke-linejoin="miter"/>
<line x1="279.65" y1="1507.5" x2="279.65" y2="1520.3" stroke="#f06a36" stroke-width="5.2"/>
<line x1="272.65" y1="1507.5" x2="286.65" y2="1507.5" stroke="#f06a36" stroke-width="5.2"/>
<path d="M267.9 1812.8V1521.9H291.4V1812.8" fill="#fff" stroke="#f06a36" stroke-width="5.2" stroke-linejoin="miter"/>
<line x1="321.75" y1="1719.6" x2="321.75" y2="1727.5" stroke="#007f43" stroke-width="5.2"/>
<line x1="314.75" y1="1719.6" x2="328.75" y2="1719.6" stroke="#007f43" stroke-width="5.2"/>
<path d="M310 1812.8V1729.1H333.5V1812.8" fill="#fff" stroke="#007f43" stroke-width="5.2" stroke-linejoin="miter"/>
<line x1="363.95" y1="1537.3" x2="363.95" y2="1553.2" stroke="#007f43" stroke-width="5.2"/>
<line x1="356.95" y1="1537.3" x2="370.95" y2="1537.3" stroke="#007f43" stroke-width="5.2"/>
<rect x="349.6" y="1552.2" width="28.7" height="260.6" fill="#007f43"/>
<line x1="406.45" y1="1478" x2="406.45" y2="1494.8" stroke="#f06a36" stroke-width="5.2"/>
<line x1="399.45" y1="1478" x2="413.45" y2="1478" stroke="#f06a36" stroke-width="5.2"/>
<rect x="392.1" y="1493.8" width="28.7" height="319" fill="#f06a36"/>
<rect x="462" y="1795.8" width="28.7" height="17" fill="#231f20"/>
<line x1="518.85" y1="1777" x2="518.85" y2="1780.3" stroke="#3a5da9" stroke-width="5.2"/>
<line x1="511.85" y1="1777" x2="525.85" y2="1777" stroke="#3a5da9" stroke-width="5.2"/>
<path d="M507.1 1812.8V1781.9H530.6V1812.8" fill="#fff" stroke="#3a5da9" stroke-width="5.2" stroke-linejoin="miter"/>
<line x1="560.95" y1="1764" x2="560.95" y2="1767.1" stroke="#f06a36" stroke-width="5.2"/>
<line x1="553.95" y1="1764" x2="567.95" y2="1764" stroke="#f06a36" stroke-width="5.2"/>
<path d="M549.2 1812.8V1768.7H572.7V1812.8" fill="#fff" stroke="#f06a36" stroke-width="5.2" stroke-linejoin="miter"/>
<line x1="603.25" y1="1770" x2="603.25" y2="1773.1" stroke="#007f43" stroke-width="5.2"/>
<line x1="596.25" y1="1770" x2="610.25" y2="1770" stroke="#007f43" stroke-width="5.2"/>
<path d="M591.5 1812.8V1774.7H615V1812.8" fill="#fff" stroke="#007f43" stroke-width="5.2" stroke-linejoin="miter"/>
<line x1="645.25" y1="1757" x2="645.25" y2="1760.2" stroke="#007f43" stroke-width="5.2"/>
<line x1="638.25" y1="1757" x2="652.25" y2="1757" stroke="#007f43" stroke-width="5.2"/>
<rect x="630.9" y="1759.2" width="28.7" height="53.6" fill="#007f43"/>
<line x1="687.35" y1="1748" x2="687.35" y2="1754.2" stroke="#f06a36" stroke-width="5.2"/>
<line x1="680.35" y1="1748" x2="694.35" y2="1748" stroke="#f06a36" stroke-width="5.2"/>
<rect x="673" y="1753.2" width="28.7" height="59.6" fill="#f06a36"/>
<line x1="758.05" y1="1785" x2="758.05" y2="1788.6" stroke="#231f20" stroke-width="5.2"/>
<line x1="751.05" y1="1785" x2="765.05" y2="1785" stroke="#231f20" stroke-width="5.2"/>
<rect x="743.7" y="1787.6" width="28.7" height="25.2" fill="#231f20"/>
<line x1="800.25" y1="1783" x2="800.25" y2="1788.2" stroke="#3a5da9" stroke-width="5.2"/>
<line x1="793.25" y1="1783" x2="807.25" y2="1783" stroke="#3a5da9" stroke-width="5.2"/>
<path d="M788.5 1812.8V1789.8H812V1812.8" fill="#fff" stroke="#3a5da9" stroke-width="5.2" stroke-linejoin="miter"/>
<line x1="842.35" y1="1775.2" x2="842.35" y2="1781.7" stroke="#f06a36" stroke-width="5.2"/>
<line x1="835.35" y1="1775.2" x2="849.35" y2="1775.2" stroke="#f06a36" stroke-width="5.2"/>
<path d="M830.6 1812.8V1783.3H854.1V1812.8" fill="#fff" stroke="#f06a36" stroke-width="5.2" stroke-linejoin="miter"/>
<line x1="884.45" y1="1777.2" x2="884.45" y2="1781.7" stroke="#007f43" stroke-width="5.2"/>
<line x1="877.45" y1="1777.2" x2="891.45" y2="1777.2" stroke="#007f43" stroke-width="5.2"/>
<path d="M872.7 1812.8V1783.3H896.2V1812.8" fill="#fff" stroke="#007f43" stroke-width="5.2" stroke-linejoin="miter"/>
<line x1="926.55" y1="1762.6" x2="926.55" y2="1771" stroke="#007f43" stroke-width="5.2"/>
<line x1="919.55" y1="1762.6" x2="933.55" y2="1762.6" stroke="#007f43" stroke-width="5.2"/>
<rect x="912.2" y="1770" width="28.7" height="42.8" fill="#007f43"/>
<line x1="969.05" y1="1741" x2="969.05" y2="1743.9" stroke="#f06a36" stroke-width="5.2"/>
<line x1="962.05" y1="1741" x2="976.05" y2="1741" stroke="#f06a36" stroke-width="5.2"/>
<rect x="954.7" y="1742.9" width="28.7" height="69.9" fill="#f06a36"/>
<line x1="1039.65" y1="1761.8" x2="1039.65" y2="1768.4" stroke="#231f20" stroke-width="5.2"/>
<line x1="1032.65" y1="1761.8" x2="1046.65" y2="1761.8" stroke="#231f20" stroke-width="5.2"/>
<rect x="1025.3" y="1767.4" width="28.7" height="45.4" fill="#231f20"/>
<line x1="1081.75" y1="1685" x2="1081.75" y2="1688.8" stroke="#3a5da9" stroke-width="5.2"/>
<line x1="1074.75" y1="1685" x2="1088.75" y2="1685" stroke="#3a5da9" stroke-width="5.2"/>
<path d="M1070 1812.8V1690.4H1093.5V1812.8" fill="#fff" stroke="#3a5da9" stroke-width="5.2" stroke-linejoin="miter"/>
<line x1="1123.85" y1="1584.7" x2="1123.85" y2="1601.5" stroke="#f06a36" stroke-width="5.2"/>
<line x1="1116.85" y1="1584.7" x2="1130.85" y2="1584.7" stroke="#f06a36" stroke-width="5.2"/>
<path d="M1112.1 1812.8V1603.1H1135.6V1812.8" fill="#fff" stroke="#f06a36" stroke-width="5.2" stroke-linejoin="miter"/>
<line x1="1166.05" y1="1742" x2="1166.05" y2="1747.6" stroke="#007f43" stroke-width="5.2"/>
<line x1="1159.05" y1="1742" x2="1173.05" y2="1742" stroke="#007f43" stroke-width="5.2"/>
<path d="M1154.3 1812.8V1749.2H1177.8V1812.8" fill="#fff" stroke="#007f43" stroke-width="5.2" stroke-linejoin="miter"/>
<line x1="1208.25" y1="1574.7" x2="1208.25" y2="1583.1" stroke="#007f43" stroke-width="5.2"/>
<line x1="1201.25" y1="1574.7" x2="1215.25" y2="1574.7" stroke="#007f43" stroke-width="5.2"/>
<rect x="1193.9" y="1582.1" width="28.7" height="230.7" fill="#007f43"/>
<line x1="1250.45" y1="1533.9" x2="1250.45" y2="1538.8" stroke="#f06a36" stroke-width="5.2"/>
<line x1="1243.45" y1="1533.9" x2="1257.45" y2="1533.9" stroke="#f06a36" stroke-width="5.2"/>
<rect x="1236.1" y="1537.8" width="28.7" height="275" fill="#f06a36"/>
<line x1="167.1" y1="1408.3" x2="167.1" y2="1815.5" stroke="#231f20" stroke-width="5.3"/>
<line x1="145.3" y1="1812.8" x2="1281.1" y2="1812.8" stroke="#231f20" stroke-width="5.4"/>
<line x1="145.3" y1="1812.8" x2="167.1" y2="1812.8" stroke="#231f20" stroke-width="5.3"/>
<text transform="translate(116.55 1824.1) scale(1 1.03)" font-size="39" fill="#231f20" stroke="#231f20" stroke-width="0.5">0</text>
<line x1="145.3" y1="1712.35" x2="167.1" y2="1712.35" stroke="#231f20" stroke-width="5.3"/>
<text transform="translate(94.84 1723.35) scale(1 1.03)" font-size="39" fill="#231f20" stroke="#231f20" stroke-width="0.5">10</text>
<line x1="145.3" y1="1611.9" x2="167.1" y2="1611.9" stroke="#231f20" stroke-width="5.3"/>
<text transform="translate(94.84 1622.6) scale(1 1.03)" font-size="39" fill="#231f20" stroke="#231f20" stroke-width="0.5">20</text>
<line x1="145.3" y1="1511.45" x2="167.1" y2="1511.45" stroke="#231f20" stroke-width="5.3"/>
<text transform="translate(94.84 1521.85) scale(1 1.03)" font-size="39" fill="#231f20" stroke="#231f20" stroke-width="0.5">30</text>
<line x1="145.3" y1="1411" x2="167.1" y2="1411" stroke="#231f20" stroke-width="5.3"/>
<text transform="translate(94.84 1421.1) scale(1 1.03)" font-size="39" fill="#231f20" stroke="#231f20" stroke-width="0.5">40</text>
<line x1="300" y1="1812.8" x2="300" y2="1834.6" stroke="#231f20" stroke-width="5.2"/>
<text transform="translate(255.08 1872.4) scale(1 1.03)" font-size="39" fill="#231f20" stroke="#231f20" stroke-width="0.5">A549</text>
<line x1="581.3" y1="1812.8" x2="581.3" y2="1834.6" stroke="#231f20" stroke-width="5.2"/>
<text transform="translate(494.65 1872.4) scale(1 1.03)" font-size="39" fill="#231f20" stroke="#231f20" stroke-width="0.5">HCC2935</text>
<line x1="863.1" y1="1812.8" x2="863.1" y2="1834.6" stroke="#231f20" stroke-width="5.2"/>
<text transform="translate(776.45 1872.4) scale(1 1.03)" font-size="39" fill="#231f20" stroke="#231f20" stroke-width="0.5">HCC4006</text>
<line x1="1144.4" y1="1812.8" x2="1144.4" y2="1834.6" stroke="#231f20" stroke-width="5.2"/>
<text transform="translate(1045.86 1872.4) scale(1 1.03)" font-size="39" fill="#231f20" stroke="#231f20" stroke-width="0.5">NCI-H1703</text>
<circle cx="185.7" cy="1784" r="5.4" fill="#231f20"/>
<circle cx="194.8" cy="1781.5" r="5.4" fill="#231f20"/>
<circle cx="204.6" cy="1784" r="5.4" fill="#231f20"/>
<circle cx="228.3" cy="1645.7" r="5.4" fill="#231f20"/>
<circle cx="228.3" cy="1656.9" r="5.4" fill="#231f20"/>
<circle cx="246.4" cy="1651.4" r="5.4" fill="#231f20"/>
<circle cx="279.5" cy="1497.7" r="5.4" fill="#231f20"/>
<circle cx="279.5" cy="1522.1" r="5.4" fill="#231f20"/>
<circle cx="279.5" cy="1538.5" r="5.4" fill="#231f20"/>
<circle cx="312.3" cy="1734.2" r="5.4" fill="#231f20"/>
<circle cx="321.1" cy="1715.8" r="5.4" fill="#231f20"/>
<circle cx="331" cy="1727.8" r="5.4" fill="#231f20"/>
<circle cx="363.7" cy="1527.8" r="5.4" fill="#231f20"/>
<circle cx="363.7" cy="1548.8" r="5.4" fill="#231f20"/>
<circle cx="363.7" cy="1579.4" r="5.4" fill="#231f20"/>
<circle cx="406.2" cy="1467.6" r="5.4" fill="#231f20"/>
<circle cx="406.2" cy="1491.7" r="5.4" fill="#231f20"/>
<circle cx="406.2" cy="1522.1" r="5.4" fill="#231f20"/>
<circle cx="466.7" cy="1796.2" r="5.4" fill="#231f20"/>
<circle cx="476.1" cy="1791.9" r="5.4" fill="#231f20"/>
<circle cx="485.6" cy="1794.4" r="5.4" fill="#231f20"/>
<circle cx="509.3" cy="1781" r="5.4" fill="#231f20"/>
<circle cx="518.6" cy="1776.9" r="5.4" fill="#231f20"/>
<circle cx="527.7" cy="1779" r="5.4" fill="#231f20"/>
<circle cx="551.8" cy="1767.4" r="5.4" fill="#231f20"/>
<circle cx="560.9" cy="1763.8" r="5.4" fill="#231f20"/>
<circle cx="569.8" cy="1766.4" r="5.4" fill="#231f20"/>
<circle cx="593.9" cy="1773.5" r="5.4" fill="#231f20"/>
<circle cx="603" cy="1770.4" r="5.4" fill="#231f20"/>
<circle cx="612.3" cy="1771.7" r="5.4" fill="#231f20"/>
<circle cx="636" cy="1760.6" r="5.4" fill="#231f20"/>
<circle cx="645.1" cy="1757.1" r="5.4" fill="#231f20"/>
<circle cx="654.4" cy="1760" r="5.4" fill="#231f20"/>
<circle cx="678.7" cy="1746.3" r="5.4" fill="#231f20"/>
<circle cx="678.7" cy="1759.2" r="5.4" fill="#231f20"/>
<circle cx="696.5" cy="1755.7" r="5.4" fill="#231f20"/>
<circle cx="748.9" cy="1781.5" r="5.4" fill="#231f20"/>
<circle cx="766.8" cy="1784.1" r="5.4" fill="#231f20"/>
<circle cx="757.8" cy="1787.6" r="5.4" fill="#231f20"/>
<circle cx="790.8" cy="1792.7" r="5.4" fill="#231f20"/>
<circle cx="800" cy="1783.6" r="5.4" fill="#231f20"/>
<circle cx="809.1" cy="1785" r="5.4" fill="#231f20"/>
<circle cx="833.1" cy="1788.8" r="5.4" fill="#231f20"/>
<circle cx="842.1" cy="1770.7" r="5.4" fill="#231f20"/>
<circle cx="851.5" cy="1781.9" r="5.4" fill="#231f20"/>
<circle cx="875.6" cy="1775.5" r="5.4" fill="#231f20"/>
<circle cx="875.6" cy="1786.7" r="5.4" fill="#231f20"/>
<circle cx="893.3" cy="1780.7" r="5.4" fill="#231f20"/>
<circle cx="926.7" cy="1755.4" r="5.4" fill="#231f20"/>
<circle cx="917.7" cy="1778.6" r="5.4" fill="#231f20"/>
<circle cx="935.4" cy="1775.5" r="5.4" fill="#231f20"/>
<circle cx="959.9" cy="1750.1" r="5.4" fill="#231f20"/>
<circle cx="968.8" cy="1742" r="5.4" fill="#231f20"/>
<circle cx="977.9" cy="1747.2" r="5.4" fill="#231f20"/>
<circle cx="1039.2" cy="1756.6" r="5.4" fill="#231f20"/>
<circle cx="1048.7" cy="1770" r="5.4" fill="#231f20"/>
<circle cx="1030" cy="1770" r="5.4" fill="#231f20"/>
<circle cx="1072.2" cy="1688.7" r="5.4" fill="#231f20"/>
<circle cx="1081.3" cy="1683.5" r="5.4" fill="#231f20"/>
<circle cx="1090.6" cy="1687.8" r="5.4" fill="#231f20"/>
<circle cx="1123.5" cy="1578.3" r="5.4" fill="#231f20"/>
<circle cx="1123.5" cy="1593.3" r="5.4" fill="#231f20"/>
<circle cx="1123.5" cy="1630.2" r="5.4" fill="#231f20"/>
<circle cx="1156.5" cy="1752.7" r="5.4" fill="#231f20"/>
<circle cx="1165.6" cy="1737.7" r="5.4" fill="#231f20"/>
<circle cx="1174.9" cy="1749.7" r="5.4" fill="#231f20"/>
<circle cx="1208" cy="1569.2" r="5.4" fill="#231f20"/>
<circle cx="1217" cy="1584.2" r="5.4" fill="#231f20"/>
<circle cx="1198.9" cy="1593.3" r="5.4" fill="#231f20"/>
<circle cx="1241.2" cy="1542.8" r="5.4" fill="#231f20"/>
<circle cx="1250.2" cy="1532.7" r="5.4" fill="#231f20"/>
<circle cx="1259.3" cy="1536.8" r="5.4" fill="#231f20"/>
<text transform="translate(69.6 1848.2) rotate(-90) scale(1 1.06)" font-size="42.6" fill="#231f20" stroke="#231f20" stroke-width="0.5">Interferon-<tspan font-family="'DejaVu Serif', 'Liberation Serif', serif" font-size="37" stroke-width="0">γ</tspan><tspan font-size="30" dy="-19" dx="-3.2">+</tspan><tspan dy="19"> NK cells (%)</tspan></text>
<line x1="195.2" y1="1345.2" x2="405.9" y2="1345.2" stroke="#000" stroke-width="3.5"/>
<text x="270.79" y="1352.51" font-size="41" letter-spacing="3.28" fill="#231f20" stroke="#231f20" stroke-width="1" stroke-linejoin="miter">***</text>
<line x1="237.4" y1="1371.9" x2="405.9" y2="1371.9" stroke="#000" stroke-width="3.5"/>
<text x="296.47" y="1378.16" font-size="34.85" letter-spacing="2.79" fill="#231f20" stroke="#231f20" stroke-width="0.85" stroke-linejoin="miter">***</text>
<line x1="279.5" y1="1398.5" x2="405.9" y2="1398.5" stroke="#000" stroke-width="3.5"/>
<text x="335.78" y="1405.49" font-size="36.08" letter-spacing="2.89" fill="#231f20" stroke="#231f20" stroke-width="0.88" stroke-linejoin="miter">*</text>
<line x1="321.6" y1="1425.5" x2="405.9" y2="1425.5" stroke="#000" stroke-width="3.5"/>
<text x="335.59" y="1433.31" font-size="41" letter-spacing="3.28" fill="#231f20" stroke="#231f20" stroke-width="1" stroke-linejoin="miter">***</text>
<line x1="363.7" y1="1451.8" x2="405.9" y2="1451.8" stroke="#000" stroke-width="3.5"/>
<text x="356.79" y="1458.31" font-size="41" letter-spacing="3.28" fill="#231f20" stroke="#231f20" stroke-width="1" stroke-linejoin="miter">***</text>
<line x1="476.1" y1="1580.9" x2="687.2" y2="1580.9" stroke="#000" stroke-width="3.5"/>
<text x="552.19" y="1589.11" font-size="41" letter-spacing="3.28" fill="#231f20" stroke="#231f20" stroke-width="1" stroke-linejoin="miter">***</text>
<line x1="518.7" y1="1607.9" x2="687.2" y2="1607.9" stroke="#000" stroke-width="3.5"/>
<text x="584.23" y="1616.61" font-size="41" letter-spacing="3.28" fill="#231f20" stroke="#231f20" stroke-width="1" stroke-linejoin="miter">*</text>
<line x1="560.9" y1="1652.2" x2="687.2" y2="1652.2" stroke="#000" stroke-width="3.5"/>
<text transform="translate(590.75 1647.3) scale(1 1.03)" font-size="35.9" fill="#231f20" stroke="#231f20" stroke-width="0.5">p=0.57</text>
<line x1="603" y1="1696.4" x2="687.2" y2="1696.4" stroke="#000" stroke-width="3.5"/>
<text transform="translate(607 1688.9) scale(1 1.03)" font-size="35.9" fill="#231f20" stroke="#231f20" stroke-width="0.5">p=0.24</text>
<line x1="645.5" y1="1737.7" x2="687.2" y2="1737.7" stroke="#000" stroke-width="3.5"/>
<text transform="translate(635.24 1731) scale(1 1.03)" font-size="35.9" fill="#231f20" stroke="#231f20" stroke-width="0.5">p=0.96</text>
<line x1="756.1" y1="1607.9" x2="967.1" y2="1607.9" stroke="#000" stroke-width="3.5"/>
<text x="832.19" y="1615.31" font-size="41" letter-spacing="3.28" fill="#231f20" stroke="#231f20" stroke-width="1" stroke-linejoin="miter">***</text>
<line x1="798.7" y1="1634.5" x2="967.1" y2="1634.5" stroke="#000" stroke-width="3.5"/>
<text x="850.59" y="1642.91" font-size="41" letter-spacing="3.28" fill="#231f20" stroke="#231f20" stroke-width="1" stroke-linejoin="miter">***</text>
<line x1="840.9" y1="1660.8" x2="967.1" y2="1660.8" stroke="#000" stroke-width="3.5"/>
<text x="883.41" y="1669.91" font-size="41" letter-spacing="3.28" fill="#231f20" stroke="#231f20" stroke-width="1" stroke-linejoin="miter">**</text>
<line x1="883" y1="1687.8" x2="967.1" y2="1687.8" stroke="#000" stroke-width="3.5"/>
<text x="904.01" y="1696.51" font-size="41" letter-spacing="3.28" fill="#231f20" stroke="#231f20" stroke-width="1" stroke-linejoin="miter">**</text>
<line x1="925.5" y1="1728.6" x2="967.1" y2="1728.6" stroke="#000" stroke-width="3.5"/>
<text transform="translate(898.04 1723.8) scale(1 1.03)" font-size="35.9" fill="#231f20" stroke="#231f20" stroke-width="0.5">p=0.08</text>
<line x1="1038.2" y1="1412.2" x2="1248.8" y2="1412.2" stroke="#000" stroke-width="3.5"/>
<text x="1113.69" y="1419.31" font-size="41" letter-spacing="3.28" fill="#231f20" stroke="#231f20" stroke-width="1" stroke-linejoin="miter">***</text>
<line x1="1080.5" y1="1438.8" x2="1248.8" y2="1438.8" stroke="#000" stroke-width="3.5"/>
<text x="1132.59" y="1448.01" font-size="41" letter-spacing="3.28" fill="#231f20" stroke="#231f20" stroke-width="1" stroke-linejoin="miter">***</text>
<line x1="1122.6" y1="1465.5" x2="1248.8" y2="1465.5" stroke="#000" stroke-width="3.5"/>
<text x="1154.89" y="1472.61" font-size="41" letter-spacing="3.28" fill="#231f20" stroke="#231f20" stroke-width="1" stroke-linejoin="miter">***</text>
<line x1="1165.1" y1="1492.3" x2="1248.8" y2="1492.3" stroke="#000" stroke-width="3.5"/>
<text x="1178.59" y="1500.51" font-size="41" letter-spacing="3.28" fill="#231f20" stroke="#231f20" stroke-width="1" stroke-linejoin="miter">***</text>
<line x1="1206.8" y1="1518.9" x2="1248.8" y2="1518.9" stroke="#000" stroke-width="3.5"/>
<text x="1199.59" y="1525.91" font-size="41" letter-spacing="3.28" fill="#231f20" stroke="#231f20" stroke-width="1" stroke-linejoin="miter">***</text>
<rect x="1293.4" y="1351.6" width="54.8" height="27" fill="#231f20"/>
<text x="1360.96" y="1378.8" font-size="39.5" fill="#231f20" stroke="#231f20" stroke-width="0.5">Isotypes (mIgG1 + hIgG1)</text>
<rect x="1296" y="1401.9" width="49.6" height="21.8" fill="#fff" stroke="#3a5da9" stroke-width="5.2"/>
<text x="1361.24" y="1426.5" font-size="39.17" fill="#3a5da9" stroke="#3a5da9" stroke-width="0.5">mIgG1 Isotype + Cetuximab</text>
<rect x="1296" y="1449.7" width="49.6" height="21.8" fill="#fff" stroke="#f06a36" stroke-width="5.2"/>
<text x="1361.24" y="1474.3" font-size="39.13" fill="#f06a36" stroke="#f06a36" stroke-width="0.5">mIgG1 Isotype + Cetuximab-GAALIE</text>
<rect x="1296" y="1497.4" width="49.6" height="21.8" fill="#fff" stroke="#007f43" stroke-width="5.2"/>
<text x="1361.52" y="1522" font-size="38.96" fill="#007f43" stroke="#007f43" stroke-width="0.5">hIgG1 Isotype + F9H4</text>
<rect x="1293.4" y="1542.6" width="54.8" height="27" fill="#007f43"/>
<text x="1361.95" y="1569.8" font-size="39.07" font-weight="bold" fill="#007f43" stroke="#007f43" stroke-width="0.3">F9H4 + Cetuximab</text>
<rect x="1293.4" y="1590.3" width="54.8" height="27" fill="#f06a36"/>
<text x="1361.94" y="1617.5" font-size="39.11" font-weight="bold" fill="#f06a36" stroke="#f06a36" stroke-width="0.3">F9H4 + Cetuximab-GAALIE</text>
</svg>
</body>
</html>
